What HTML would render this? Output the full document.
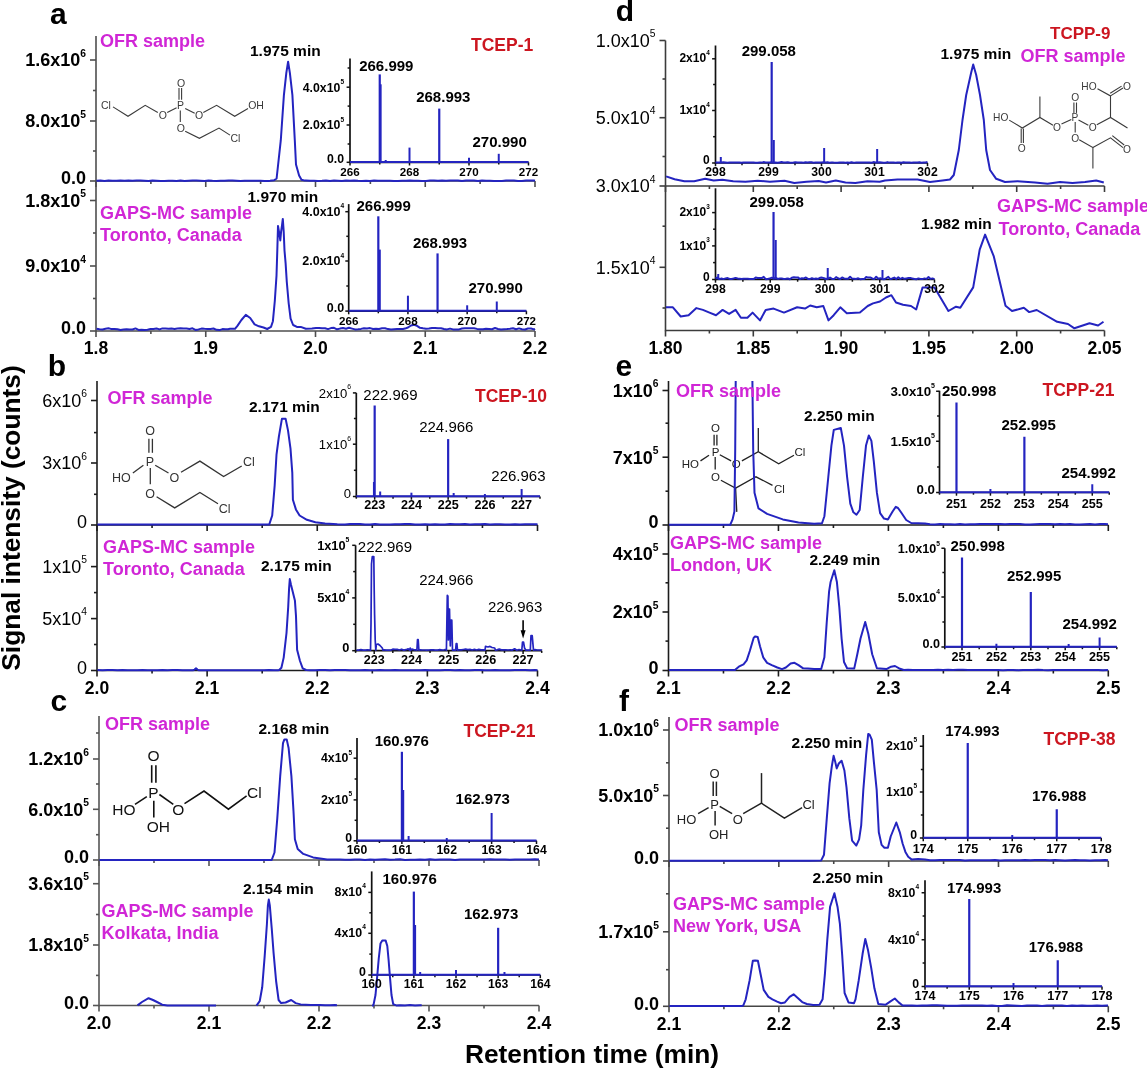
<!DOCTYPE html>
<html><head><meta charset="utf-8"><style>
html,body{margin:0;padding:0;background:#fff;}
svg{display:block;font-family:"Liberation Sans", sans-serif;will-change:transform;}
</style></head><body>
<svg width="1147" height="1069" viewBox="0 0 1147 1069">
<rect width="1147" height="1069" fill="#fff"/>
<line x1="96" y1="36" x2="96" y2="331.8" stroke="#4e4e4e" stroke-width="1.6"/>
<line x1="96" y1="181" x2="535" y2="181" stroke="#4e4e4e" stroke-width="1.6"/>
<line x1="96" y1="181" x2="96" y2="187" stroke="#4e4e4e" stroke-width="1.6"/>
<line x1="150.88" y1="181" x2="150.88" y2="184" stroke="#4e4e4e" stroke-width="1.6"/>
<line x1="205.75" y1="181" x2="205.75" y2="187" stroke="#4e4e4e" stroke-width="1.6"/>
<line x1="260.63" y1="181" x2="260.63" y2="184" stroke="#4e4e4e" stroke-width="1.6"/>
<line x1="315.5" y1="181" x2="315.5" y2="187" stroke="#4e4e4e" stroke-width="1.6"/>
<line x1="370.37" y1="181" x2="370.37" y2="184" stroke="#4e4e4e" stroke-width="1.6"/>
<line x1="425.25" y1="181" x2="425.25" y2="187" stroke="#4e4e4e" stroke-width="1.6"/>
<line x1="480.12" y1="181" x2="480.12" y2="184" stroke="#4e4e4e" stroke-width="1.6"/>
<line x1="535" y1="181" x2="535" y2="187" stroke="#4e4e4e" stroke-width="1.6"/>
<line x1="90" y1="60" x2="96" y2="60" stroke="#4e4e4e" stroke-width="1.6"/>
<text x="86" y="66.4" font-size="18" font-weight="bold" fill="#000" text-anchor="end">1.6x10<tspan dy="-9.7" font-size="10.3">6</tspan></text>
<line x1="90" y1="121" x2="96" y2="121" stroke="#4e4e4e" stroke-width="1.6"/>
<text x="86" y="127.4" font-size="18" font-weight="bold" fill="#000" text-anchor="end">8.0x10<tspan dy="-9.7" font-size="10.3">5</tspan></text>
<line x1="90" y1="181" x2="96" y2="181" stroke="#4e4e4e" stroke-width="1.6"/>
<text x="86" y="184.3" font-size="18" font-weight="bold" fill="#000" text-anchor="end">0.0</text>
<line x1="93" y1="90.5" x2="96" y2="90.5" stroke="#4e4e4e" stroke-width="1.6"/>
<line x1="93" y1="151" x2="96" y2="151" stroke="#4e4e4e" stroke-width="1.6"/>
<line x1="96" y1="331" x2="535" y2="331" stroke="#4e4e4e" stroke-width="1.6"/>
<line x1="96" y1="331" x2="96" y2="337" stroke="#4e4e4e" stroke-width="1.6"/>
<line x1="150.88" y1="331" x2="150.88" y2="334" stroke="#4e4e4e" stroke-width="1.6"/>
<line x1="205.75" y1="331" x2="205.75" y2="337" stroke="#4e4e4e" stroke-width="1.6"/>
<line x1="260.63" y1="331" x2="260.63" y2="334" stroke="#4e4e4e" stroke-width="1.6"/>
<line x1="315.5" y1="331" x2="315.5" y2="337" stroke="#4e4e4e" stroke-width="1.6"/>
<line x1="370.37" y1="331" x2="370.37" y2="334" stroke="#4e4e4e" stroke-width="1.6"/>
<line x1="425.25" y1="331" x2="425.25" y2="337" stroke="#4e4e4e" stroke-width="1.6"/>
<line x1="480.12" y1="331" x2="480.12" y2="334" stroke="#4e4e4e" stroke-width="1.6"/>
<line x1="535" y1="331" x2="535" y2="337" stroke="#4e4e4e" stroke-width="1.6"/>
<line x1="90" y1="200.5" x2="96" y2="200.5" stroke="#4e4e4e" stroke-width="1.6"/>
<text x="86" y="206.9" font-size="18" font-weight="bold" fill="#000" text-anchor="end">1.8x10<tspan dy="-9.7" font-size="10.3">5</tspan></text>
<line x1="90" y1="266" x2="96" y2="266" stroke="#4e4e4e" stroke-width="1.6"/>
<text x="86" y="272.4" font-size="18" font-weight="bold" fill="#000" text-anchor="end">9.0x10<tspan dy="-9.7" font-size="10.3">4</tspan></text>
<line x1="90" y1="331" x2="96" y2="331" stroke="#4e4e4e" stroke-width="1.6"/>
<text x="86" y="334.3" font-size="18" font-weight="bold" fill="#000" text-anchor="end">0.0</text>
<line x1="93" y1="233" x2="96" y2="233" stroke="#4e4e4e" stroke-width="1.6"/>
<line x1="93" y1="298.5" x2="96" y2="298.5" stroke="#4e4e4e" stroke-width="1.6"/>
<text x="96" y="353.8" font-size="17.5" font-weight="bold" fill="#000" text-anchor="middle">1.8</text>
<text x="205.75" y="353.8" font-size="17.5" font-weight="bold" fill="#000" text-anchor="middle">1.9</text>
<text x="315.5" y="353.8" font-size="17.5" font-weight="bold" fill="#000" text-anchor="middle">2.0</text>
<text x="425.25" y="353.8" font-size="17.5" font-weight="bold" fill="#000" text-anchor="middle">2.1</text>
<text x="535" y="353.8" font-size="17.5" font-weight="bold" fill="#000" text-anchor="middle">2.2</text>
<line x1="97" y1="381" x2="97" y2="671.3" stroke="#1c1c1c" stroke-width="1.6"/>
<line x1="97" y1="525" x2="537.5" y2="525" stroke="#1c1c1c" stroke-width="1.6"/>
<line x1="97" y1="525" x2="97" y2="531" stroke="#1c1c1c" stroke-width="1.6"/>
<line x1="152.06" y1="525" x2="152.06" y2="528" stroke="#1c1c1c" stroke-width="1.6"/>
<line x1="207.13" y1="525" x2="207.13" y2="531" stroke="#1c1c1c" stroke-width="1.6"/>
<line x1="262.19" y1="525" x2="262.19" y2="528" stroke="#1c1c1c" stroke-width="1.6"/>
<line x1="317.25" y1="525" x2="317.25" y2="531" stroke="#1c1c1c" stroke-width="1.6"/>
<line x1="372.31" y1="525" x2="372.31" y2="528" stroke="#1c1c1c" stroke-width="1.6"/>
<line x1="427.37" y1="525" x2="427.37" y2="531" stroke="#1c1c1c" stroke-width="1.6"/>
<line x1="482.44" y1="525" x2="482.44" y2="528" stroke="#1c1c1c" stroke-width="1.6"/>
<line x1="537.5" y1="525" x2="537.5" y2="531" stroke="#1c1c1c" stroke-width="1.6"/>
<line x1="91" y1="400.5" x2="97" y2="400.5" stroke="#1c1c1c" stroke-width="1.6"/>
<text x="87" y="406.9" font-size="18" font-weight="normal" fill="#000" text-anchor="end">6x10<tspan dy="-9.7" font-size="10.3">6</tspan></text>
<line x1="91" y1="463" x2="97" y2="463" stroke="#1c1c1c" stroke-width="1.6"/>
<text x="87" y="469.4" font-size="18" font-weight="normal" fill="#000" text-anchor="end">3x10<tspan dy="-9.7" font-size="10.3">6</tspan></text>
<line x1="91" y1="525" x2="97" y2="525" stroke="#1c1c1c" stroke-width="1.6"/>
<text x="87" y="528.3" font-size="18" font-weight="normal" fill="#000" text-anchor="end">0</text>
<line x1="94" y1="432.6" x2="97" y2="432.6" stroke="#1c1c1c" stroke-width="1.6"/>
<line x1="94" y1="494.3" x2="97" y2="494.3" stroke="#1c1c1c" stroke-width="1.6"/>
<line x1="97" y1="670.5" x2="537.5" y2="670.5" stroke="#1c1c1c" stroke-width="1.6"/>
<line x1="97" y1="670.5" x2="97" y2="676.5" stroke="#1c1c1c" stroke-width="1.6"/>
<line x1="152.06" y1="670.5" x2="152.06" y2="673.5" stroke="#1c1c1c" stroke-width="1.6"/>
<line x1="207.13" y1="670.5" x2="207.13" y2="676.5" stroke="#1c1c1c" stroke-width="1.6"/>
<line x1="262.19" y1="670.5" x2="262.19" y2="673.5" stroke="#1c1c1c" stroke-width="1.6"/>
<line x1="317.25" y1="670.5" x2="317.25" y2="676.5" stroke="#1c1c1c" stroke-width="1.6"/>
<line x1="372.31" y1="670.5" x2="372.31" y2="673.5" stroke="#1c1c1c" stroke-width="1.6"/>
<line x1="427.37" y1="670.5" x2="427.37" y2="676.5" stroke="#1c1c1c" stroke-width="1.6"/>
<line x1="482.44" y1="670.5" x2="482.44" y2="673.5" stroke="#1c1c1c" stroke-width="1.6"/>
<line x1="537.5" y1="670.5" x2="537.5" y2="676.5" stroke="#1c1c1c" stroke-width="1.6"/>
<line x1="91" y1="566.6" x2="97" y2="566.6" stroke="#1c1c1c" stroke-width="1.6"/>
<text x="87" y="573" font-size="18" font-weight="normal" fill="#000" text-anchor="end">1x10<tspan dy="-9.7" font-size="10.3">5</tspan></text>
<line x1="91" y1="618.6" x2="97" y2="618.6" stroke="#1c1c1c" stroke-width="1.6"/>
<text x="87" y="625" font-size="18" font-weight="normal" fill="#000" text-anchor="end">5x10<tspan dy="-9.7" font-size="10.3">4</tspan></text>
<line x1="91" y1="670.5" x2="97" y2="670.5" stroke="#1c1c1c" stroke-width="1.6"/>
<text x="87" y="673.8" font-size="18" font-weight="normal" fill="#000" text-anchor="end">0</text>
<line x1="94" y1="592.6" x2="97" y2="592.6" stroke="#1c1c1c" stroke-width="1.6"/>
<line x1="94" y1="644.5" x2="97" y2="644.5" stroke="#1c1c1c" stroke-width="1.6"/>
<text x="97" y="693.7" font-size="17.5" font-weight="bold" fill="#000" text-anchor="middle">2.0</text>
<text x="207.13" y="693.7" font-size="17.5" font-weight="bold" fill="#000" text-anchor="middle">2.1</text>
<text x="317.25" y="693.7" font-size="17.5" font-weight="bold" fill="#000" text-anchor="middle">2.2</text>
<text x="427.37" y="693.7" font-size="17.5" font-weight="bold" fill="#000" text-anchor="middle">2.3</text>
<text x="537.5" y="693.7" font-size="17.5" font-weight="bold" fill="#000" text-anchor="middle">2.4</text>
<line x1="99" y1="716" x2="99" y2="1006.3" stroke="#555555" stroke-width="1.6"/>
<line x1="99" y1="860" x2="539" y2="860" stroke="#555555" stroke-width="1.6"/>
<line x1="99" y1="860" x2="99" y2="866" stroke="#555555" stroke-width="1.6"/>
<line x1="154" y1="860" x2="154" y2="863" stroke="#555555" stroke-width="1.6"/>
<line x1="209" y1="860" x2="209" y2="866" stroke="#555555" stroke-width="1.6"/>
<line x1="264" y1="860" x2="264" y2="863" stroke="#555555" stroke-width="1.6"/>
<line x1="319" y1="860" x2="319" y2="866" stroke="#555555" stroke-width="1.6"/>
<line x1="374" y1="860" x2="374" y2="863" stroke="#555555" stroke-width="1.6"/>
<line x1="429" y1="860" x2="429" y2="866" stroke="#555555" stroke-width="1.6"/>
<line x1="484" y1="860" x2="484" y2="863" stroke="#555555" stroke-width="1.6"/>
<line x1="539" y1="860" x2="539" y2="866" stroke="#555555" stroke-width="1.6"/>
<line x1="93" y1="759" x2="99" y2="759" stroke="#555555" stroke-width="1.6"/>
<text x="89" y="765.4" font-size="18" font-weight="bold" fill="#000" text-anchor="end">1.2x10<tspan dy="-9.7" font-size="10.3">6</tspan></text>
<line x1="93" y1="809.3" x2="99" y2="809.3" stroke="#555555" stroke-width="1.6"/>
<text x="89" y="815.7" font-size="18" font-weight="bold" fill="#000" text-anchor="end">6.0x10<tspan dy="-9.7" font-size="10.3">5</tspan></text>
<line x1="93" y1="860" x2="99" y2="860" stroke="#555555" stroke-width="1.6"/>
<text x="89" y="863.3" font-size="18" font-weight="bold" fill="#000" text-anchor="end">0.0</text>
<line x1="96" y1="733" x2="99" y2="733" stroke="#555555" stroke-width="1.6"/>
<line x1="96" y1="784" x2="99" y2="784" stroke="#555555" stroke-width="1.6"/>
<line x1="96" y1="834.7" x2="99" y2="834.7" stroke="#555555" stroke-width="1.6"/>
<line x1="99" y1="1005.5" x2="539" y2="1005.5" stroke="#555555" stroke-width="1.6"/>
<line x1="99" y1="1005.5" x2="99" y2="1011.5" stroke="#555555" stroke-width="1.6"/>
<line x1="154" y1="1005.5" x2="154" y2="1008.5" stroke="#555555" stroke-width="1.6"/>
<line x1="209" y1="1005.5" x2="209" y2="1011.5" stroke="#555555" stroke-width="1.6"/>
<line x1="264" y1="1005.5" x2="264" y2="1008.5" stroke="#555555" stroke-width="1.6"/>
<line x1="319" y1="1005.5" x2="319" y2="1011.5" stroke="#555555" stroke-width="1.6"/>
<line x1="374" y1="1005.5" x2="374" y2="1008.5" stroke="#555555" stroke-width="1.6"/>
<line x1="429" y1="1005.5" x2="429" y2="1011.5" stroke="#555555" stroke-width="1.6"/>
<line x1="484" y1="1005.5" x2="484" y2="1008.5" stroke="#555555" stroke-width="1.6"/>
<line x1="539" y1="1005.5" x2="539" y2="1011.5" stroke="#555555" stroke-width="1.6"/>
<line x1="93" y1="883.7" x2="99" y2="883.7" stroke="#555555" stroke-width="1.6"/>
<text x="89" y="890.1" font-size="18" font-weight="bold" fill="#000" text-anchor="end">3.6x10<tspan dy="-9.7" font-size="10.3">5</tspan></text>
<line x1="93" y1="945" x2="99" y2="945" stroke="#555555" stroke-width="1.6"/>
<text x="89" y="951.4" font-size="18" font-weight="bold" fill="#000" text-anchor="end">1.8x10<tspan dy="-9.7" font-size="10.3">5</tspan></text>
<line x1="93" y1="1005.5" x2="99" y2="1005.5" stroke="#555555" stroke-width="1.6"/>
<text x="89" y="1008.8" font-size="18" font-weight="bold" fill="#000" text-anchor="end">0.0</text>
<line x1="96" y1="914.5" x2="99" y2="914.5" stroke="#555555" stroke-width="1.6"/>
<line x1="96" y1="975.4" x2="99" y2="975.4" stroke="#555555" stroke-width="1.6"/>
<text x="99" y="1028.7" font-size="17.5" font-weight="bold" fill="#000" text-anchor="middle">2.0</text>
<text x="209" y="1028.7" font-size="17.5" font-weight="bold" fill="#000" text-anchor="middle">2.1</text>
<text x="319" y="1028.7" font-size="17.5" font-weight="bold" fill="#000" text-anchor="middle">2.2</text>
<text x="429" y="1028.7" font-size="17.5" font-weight="bold" fill="#000" text-anchor="middle">2.3</text>
<text x="539" y="1028.7" font-size="17.5" font-weight="bold" fill="#000" text-anchor="middle">2.4</text>
<line x1="665.5" y1="40.5" x2="665.5" y2="331.3" stroke="#3c3c3c" stroke-width="1.6"/>
<line x1="665.5" y1="186" x2="1104.5" y2="186" stroke="#3c3c3c" stroke-width="1.6"/>
<line x1="665.5" y1="186" x2="665.5" y2="192" stroke="#3c3c3c" stroke-width="1.6"/>
<line x1="709.4" y1="186" x2="709.4" y2="189" stroke="#3c3c3c" stroke-width="1.6"/>
<line x1="753.3" y1="186" x2="753.3" y2="192" stroke="#3c3c3c" stroke-width="1.6"/>
<line x1="797.2" y1="186" x2="797.2" y2="189" stroke="#3c3c3c" stroke-width="1.6"/>
<line x1="841.1" y1="186" x2="841.1" y2="192" stroke="#3c3c3c" stroke-width="1.6"/>
<line x1="885" y1="186" x2="885" y2="189" stroke="#3c3c3c" stroke-width="1.6"/>
<line x1="928.9" y1="186" x2="928.9" y2="192" stroke="#3c3c3c" stroke-width="1.6"/>
<line x1="972.8" y1="186" x2="972.8" y2="189" stroke="#3c3c3c" stroke-width="1.6"/>
<line x1="1016.7" y1="186" x2="1016.7" y2="192" stroke="#3c3c3c" stroke-width="1.6"/>
<line x1="1060.6" y1="186" x2="1060.6" y2="189" stroke="#3c3c3c" stroke-width="1.6"/>
<line x1="1104.5" y1="186" x2="1104.5" y2="192" stroke="#3c3c3c" stroke-width="1.6"/>
<line x1="659.5" y1="40.5" x2="665.5" y2="40.5" stroke="#3c3c3c" stroke-width="1.6"/>
<text x="655.5" y="46.9" font-size="18" font-weight="normal" fill="#000" text-anchor="end">1.0x10<tspan dy="-9.7" font-size="10.3">5</tspan></text>
<line x1="659.5" y1="117.7" x2="665.5" y2="117.7" stroke="#3c3c3c" stroke-width="1.6"/>
<text x="655.5" y="124.1" font-size="18" font-weight="normal" fill="#000" text-anchor="end">5.0x10<tspan dy="-9.7" font-size="10.3">4</tspan></text>
<line x1="659.5" y1="186" x2="665.5" y2="186" stroke="#3c3c3c" stroke-width="1.6"/>
<text x="655.5" y="192.4" font-size="18" font-weight="normal" fill="#000" text-anchor="end">3.0x10<tspan dy="-9.7" font-size="10.3">4</tspan></text>
<line x1="662.5" y1="79" x2="665.5" y2="79" stroke="#3c3c3c" stroke-width="1.6"/>
<line x1="662.5" y1="156.5" x2="665.5" y2="156.5" stroke="#3c3c3c" stroke-width="1.6"/>
<line x1="665.5" y1="330.5" x2="1104.5" y2="330.5" stroke="#3c3c3c" stroke-width="1.6"/>
<line x1="665.5" y1="330.5" x2="665.5" y2="336.5" stroke="#3c3c3c" stroke-width="1.6"/>
<line x1="709.4" y1="330.5" x2="709.4" y2="333.5" stroke="#3c3c3c" stroke-width="1.6"/>
<line x1="753.3" y1="330.5" x2="753.3" y2="336.5" stroke="#3c3c3c" stroke-width="1.6"/>
<line x1="797.2" y1="330.5" x2="797.2" y2="333.5" stroke="#3c3c3c" stroke-width="1.6"/>
<line x1="841.1" y1="330.5" x2="841.1" y2="336.5" stroke="#3c3c3c" stroke-width="1.6"/>
<line x1="885" y1="330.5" x2="885" y2="333.5" stroke="#3c3c3c" stroke-width="1.6"/>
<line x1="928.9" y1="330.5" x2="928.9" y2="336.5" stroke="#3c3c3c" stroke-width="1.6"/>
<line x1="972.8" y1="330.5" x2="972.8" y2="333.5" stroke="#3c3c3c" stroke-width="1.6"/>
<line x1="1016.7" y1="330.5" x2="1016.7" y2="336.5" stroke="#3c3c3c" stroke-width="1.6"/>
<line x1="1060.6" y1="330.5" x2="1060.6" y2="333.5" stroke="#3c3c3c" stroke-width="1.6"/>
<line x1="1104.5" y1="330.5" x2="1104.5" y2="336.5" stroke="#3c3c3c" stroke-width="1.6"/>
<line x1="659.5" y1="267.3" x2="665.5" y2="267.3" stroke="#3c3c3c" stroke-width="1.6"/>
<text x="655.5" y="273.7" font-size="18" font-weight="normal" fill="#000" text-anchor="end">1.5x10<tspan dy="-9.7" font-size="10.3">4</tspan></text>
<line x1="662.5" y1="226.2" x2="665.5" y2="226.2" stroke="#3c3c3c" stroke-width="1.6"/>
<line x1="662.5" y1="308" x2="665.5" y2="308" stroke="#3c3c3c" stroke-width="1.6"/>
<text x="665.5" y="353.7" font-size="17.5" font-weight="bold" fill="#000" text-anchor="middle">1.80</text>
<text x="753.3" y="353.7" font-size="17.5" font-weight="bold" fill="#000" text-anchor="middle">1.85</text>
<text x="841.1" y="353.7" font-size="17.5" font-weight="bold" fill="#000" text-anchor="middle">1.90</text>
<text x="928.9" y="353.7" font-size="17.5" font-weight="bold" fill="#000" text-anchor="middle">1.95</text>
<text x="1016.7" y="353.7" font-size="17.5" font-weight="bold" fill="#000" text-anchor="middle">2.00</text>
<text x="1104.5" y="353.7" font-size="17.5" font-weight="bold" fill="#000" text-anchor="middle">2.05</text>
<line x1="668.5" y1="381" x2="668.5" y2="671.3" stroke="#1c1c1c" stroke-width="1.6"/>
<line x1="668.5" y1="525" x2="1108.3" y2="525" stroke="#1c1c1c" stroke-width="1.6"/>
<line x1="668.5" y1="525" x2="668.5" y2="531" stroke="#1c1c1c" stroke-width="1.6"/>
<line x1="723.47" y1="525" x2="723.47" y2="528" stroke="#1c1c1c" stroke-width="1.6"/>
<line x1="778.45" y1="525" x2="778.45" y2="531" stroke="#1c1c1c" stroke-width="1.6"/>
<line x1="833.42" y1="525" x2="833.42" y2="528" stroke="#1c1c1c" stroke-width="1.6"/>
<line x1="888.4" y1="525" x2="888.4" y2="531" stroke="#1c1c1c" stroke-width="1.6"/>
<line x1="943.38" y1="525" x2="943.38" y2="528" stroke="#1c1c1c" stroke-width="1.6"/>
<line x1="998.35" y1="525" x2="998.35" y2="531" stroke="#1c1c1c" stroke-width="1.6"/>
<line x1="1053.33" y1="525" x2="1053.33" y2="528" stroke="#1c1c1c" stroke-width="1.6"/>
<line x1="1108.3" y1="525" x2="1108.3" y2="531" stroke="#1c1c1c" stroke-width="1.6"/>
<line x1="662.5" y1="390.5" x2="668.5" y2="390.5" stroke="#1c1c1c" stroke-width="1.6"/>
<text x="658.5" y="396.9" font-size="18" font-weight="bold" fill="#000" text-anchor="end">1x10<tspan dy="-9.7" font-size="10.3">6</tspan></text>
<line x1="662.5" y1="457.2" x2="668.5" y2="457.2" stroke="#1c1c1c" stroke-width="1.6"/>
<text x="658.5" y="463.6" font-size="18" font-weight="bold" fill="#000" text-anchor="end">7x10<tspan dy="-9.7" font-size="10.3">5</tspan></text>
<line x1="662.5" y1="525" x2="668.5" y2="525" stroke="#1c1c1c" stroke-width="1.6"/>
<text x="658.5" y="528.3" font-size="18" font-weight="bold" fill="#000" text-anchor="end">0</text>
<line x1="665.5" y1="423.2" x2="668.5" y2="423.2" stroke="#1c1c1c" stroke-width="1.6"/>
<line x1="665.5" y1="491.2" x2="668.5" y2="491.2" stroke="#1c1c1c" stroke-width="1.6"/>
<line x1="668.5" y1="670.5" x2="1108.3" y2="670.5" stroke="#1c1c1c" stroke-width="1.6"/>
<line x1="668.5" y1="670.5" x2="668.5" y2="676.5" stroke="#1c1c1c" stroke-width="1.6"/>
<line x1="723.47" y1="670.5" x2="723.47" y2="673.5" stroke="#1c1c1c" stroke-width="1.6"/>
<line x1="778.45" y1="670.5" x2="778.45" y2="676.5" stroke="#1c1c1c" stroke-width="1.6"/>
<line x1="833.42" y1="670.5" x2="833.42" y2="673.5" stroke="#1c1c1c" stroke-width="1.6"/>
<line x1="888.4" y1="670.5" x2="888.4" y2="676.5" stroke="#1c1c1c" stroke-width="1.6"/>
<line x1="943.38" y1="670.5" x2="943.38" y2="673.5" stroke="#1c1c1c" stroke-width="1.6"/>
<line x1="998.35" y1="670.5" x2="998.35" y2="676.5" stroke="#1c1c1c" stroke-width="1.6"/>
<line x1="1053.33" y1="670.5" x2="1053.33" y2="673.5" stroke="#1c1c1c" stroke-width="1.6"/>
<line x1="1108.3" y1="670.5" x2="1108.3" y2="676.5" stroke="#1c1c1c" stroke-width="1.6"/>
<line x1="662.5" y1="554" x2="668.5" y2="554" stroke="#1c1c1c" stroke-width="1.6"/>
<text x="658.5" y="560.4" font-size="18" font-weight="bold" fill="#000" text-anchor="end">4x10<tspan dy="-9.7" font-size="10.3">5</tspan></text>
<line x1="662.5" y1="612" x2="668.5" y2="612" stroke="#1c1c1c" stroke-width="1.6"/>
<text x="658.5" y="618.4" font-size="18" font-weight="bold" fill="#000" text-anchor="end">2x10<tspan dy="-9.7" font-size="10.3">5</tspan></text>
<line x1="662.5" y1="670.5" x2="668.5" y2="670.5" stroke="#1c1c1c" stroke-width="1.6"/>
<text x="658.5" y="673.8" font-size="18" font-weight="bold" fill="#000" text-anchor="end">0</text>
<line x1="665.5" y1="582.8" x2="668.5" y2="582.8" stroke="#1c1c1c" stroke-width="1.6"/>
<line x1="665.5" y1="641.1" x2="668.5" y2="641.1" stroke="#1c1c1c" stroke-width="1.6"/>
<text x="668.5" y="693.7" font-size="17.5" font-weight="bold" fill="#000" text-anchor="middle">2.1</text>
<text x="778.45" y="693.7" font-size="17.5" font-weight="bold" fill="#000" text-anchor="middle">2.2</text>
<text x="888.4" y="693.7" font-size="17.5" font-weight="bold" fill="#000" text-anchor="middle">2.3</text>
<text x="998.35" y="693.7" font-size="17.5" font-weight="bold" fill="#000" text-anchor="middle">2.4</text>
<text x="1108.3" y="693.7" font-size="17.5" font-weight="bold" fill="#000" text-anchor="middle">2.5</text>
<line x1="669" y1="717" x2="669" y2="1007.1" stroke="#454545" stroke-width="1.6"/>
<line x1="669" y1="861" x2="1108.3" y2="861" stroke="#454545" stroke-width="1.6"/>
<line x1="669" y1="861" x2="669" y2="867" stroke="#454545" stroke-width="1.6"/>
<line x1="723.91" y1="861" x2="723.91" y2="864" stroke="#454545" stroke-width="1.6"/>
<line x1="778.83" y1="861" x2="778.83" y2="867" stroke="#454545" stroke-width="1.6"/>
<line x1="833.74" y1="861" x2="833.74" y2="864" stroke="#454545" stroke-width="1.6"/>
<line x1="888.65" y1="861" x2="888.65" y2="867" stroke="#454545" stroke-width="1.6"/>
<line x1="943.56" y1="861" x2="943.56" y2="864" stroke="#454545" stroke-width="1.6"/>
<line x1="998.48" y1="861" x2="998.48" y2="867" stroke="#454545" stroke-width="1.6"/>
<line x1="1053.39" y1="861" x2="1053.39" y2="864" stroke="#454545" stroke-width="1.6"/>
<line x1="1108.3" y1="861" x2="1108.3" y2="867" stroke="#454545" stroke-width="1.6"/>
<line x1="663" y1="730" x2="669" y2="730" stroke="#454545" stroke-width="1.6"/>
<text x="659" y="736.4" font-size="18" font-weight="bold" fill="#000" text-anchor="end">1.0x10<tspan dy="-9.7" font-size="10.3">6</tspan></text>
<line x1="663" y1="795.5" x2="669" y2="795.5" stroke="#454545" stroke-width="1.6"/>
<text x="659" y="801.9" font-size="18" font-weight="bold" fill="#000" text-anchor="end">5.0x10<tspan dy="-9.7" font-size="10.3">5</tspan></text>
<line x1="663" y1="861" x2="669" y2="861" stroke="#454545" stroke-width="1.6"/>
<text x="659" y="864.3" font-size="18" font-weight="bold" fill="#000" text-anchor="end">0.0</text>
<line x1="666" y1="762.8" x2="669" y2="762.8" stroke="#454545" stroke-width="1.6"/>
<line x1="666" y1="828.2" x2="669" y2="828.2" stroke="#454545" stroke-width="1.6"/>
<line x1="669" y1="1006.3" x2="1108.3" y2="1006.3" stroke="#454545" stroke-width="1.6"/>
<line x1="669" y1="1006.3" x2="669" y2="1012.3" stroke="#454545" stroke-width="1.6"/>
<line x1="723.91" y1="1006.3" x2="723.91" y2="1009.3" stroke="#454545" stroke-width="1.6"/>
<line x1="778.83" y1="1006.3" x2="778.83" y2="1012.3" stroke="#454545" stroke-width="1.6"/>
<line x1="833.74" y1="1006.3" x2="833.74" y2="1009.3" stroke="#454545" stroke-width="1.6"/>
<line x1="888.65" y1="1006.3" x2="888.65" y2="1012.3" stroke="#454545" stroke-width="1.6"/>
<line x1="943.56" y1="1006.3" x2="943.56" y2="1009.3" stroke="#454545" stroke-width="1.6"/>
<line x1="998.48" y1="1006.3" x2="998.48" y2="1012.3" stroke="#454545" stroke-width="1.6"/>
<line x1="1053.39" y1="1006.3" x2="1053.39" y2="1009.3" stroke="#454545" stroke-width="1.6"/>
<line x1="1108.3" y1="1006.3" x2="1108.3" y2="1012.3" stroke="#454545" stroke-width="1.6"/>
<line x1="663" y1="931.8" x2="669" y2="931.8" stroke="#454545" stroke-width="1.6"/>
<text x="659" y="938.2" font-size="18" font-weight="bold" fill="#000" text-anchor="end">1.7x10<tspan dy="-9.7" font-size="10.3">5</tspan></text>
<line x1="663" y1="1006.3" x2="669" y2="1006.3" stroke="#454545" stroke-width="1.6"/>
<text x="659" y="1009.6" font-size="18" font-weight="bold" fill="#000" text-anchor="end">0.0</text>
<line x1="666" y1="893.8" x2="669" y2="893.8" stroke="#454545" stroke-width="1.6"/>
<line x1="666" y1="969.7" x2="669" y2="969.7" stroke="#454545" stroke-width="1.6"/>
<text x="669" y="1029.5" font-size="17.5" font-weight="bold" fill="#000" text-anchor="middle">2.1</text>
<text x="778.83" y="1029.5" font-size="17.5" font-weight="bold" fill="#000" text-anchor="middle">2.2</text>
<text x="888.65" y="1029.5" font-size="17.5" font-weight="bold" fill="#000" text-anchor="middle">2.3</text>
<text x="998.48" y="1029.5" font-size="17.5" font-weight="bold" fill="#000" text-anchor="middle">2.4</text>
<text x="1108.3" y="1029.5" font-size="17.5" font-weight="bold" fill="#000" text-anchor="middle">2.5</text>
<text x="50" y="23.7" font-size="30" font-weight="bold" fill="#000" text-anchor="start">a</text>
<text x="47.7" y="376" font-size="30" font-weight="bold" fill="#000" text-anchor="start">b</text>
<text x="50.5" y="711" font-size="30" font-weight="bold" fill="#000" text-anchor="start">c</text>
<text x="615.8" y="20.8" font-size="30" font-weight="bold" fill="#000" text-anchor="start">d</text>
<text x="615.5" y="376" font-size="30" font-weight="bold" fill="#000" text-anchor="start">e</text>
<text x="619" y="710.6" font-size="30" font-weight="bold" fill="#000" text-anchor="start">f</text>
<text x="0" y="0" font-size="26.3" font-weight="bold" fill="#000" text-anchor="middle" transform="translate(20,518) rotate(-90)">Signal intensity (counts)</text>
<text x="592" y="1063" font-size="26.3" font-weight="bold" fill="#000" text-anchor="middle">Retention time (min)</text>
<polyline points="113.0,106.9 128.0,116.3 145.2,105.3 157.8,112.4" fill="none" stroke="#3a3a3a" stroke-width="1.1" stroke-linejoin="miter"/>
<polyline points="167.2,112.4 176.6,107.7" fill="none" stroke="#3a3a3a" stroke-width="1.1" stroke-linejoin="miter"/>
<polyline points="179.0,99.8 179.0,88.0" fill="none" stroke="#3a3a3a" stroke-width="1.1" stroke-linejoin="miter"/>
<polyline points="181.6,99.8 181.6,88.0" fill="none" stroke="#3a3a3a" stroke-width="1.1" stroke-linejoin="miter"/>
<polyline points="185.2,108.5 194.7,113.2" fill="none" stroke="#3a3a3a" stroke-width="1.1" stroke-linejoin="miter"/>
<polyline points="203.3,112.4 216.6,105.3 234.7,116.3 248.0,108.5" fill="none" stroke="#3a3a3a" stroke-width="1.1" stroke-linejoin="miter"/>
<polyline points="180.3,110.5 180.3,122.0" fill="none" stroke="#3a3a3a" stroke-width="1.1" stroke-linejoin="miter"/>
<polyline points="185.2,131.2 199.4,138.3 219.0,128.1 230.0,135.1" fill="none" stroke="#3a3a3a" stroke-width="1.1" stroke-linejoin="miter"/>
<text x="106" y="108.6" font-size="10.5" font-weight="normal" fill="#3a3a3a" text-anchor="middle">Cl</text>
<text x="162.9" y="119.3" font-size="10.5" font-weight="normal" fill="#3a3a3a" text-anchor="middle">O</text>
<text x="180.5" y="109.3" font-size="10.5" font-weight="normal" fill="#3a3a3a" text-anchor="middle">P</text>
<text x="181" y="86.6" font-size="10.5" font-weight="normal" fill="#3a3a3a" text-anchor="middle">O</text>
<text x="199" y="119.3" font-size="10.5" font-weight="normal" fill="#3a3a3a" text-anchor="middle">O</text>
<text x="256" y="108.6" font-size="10.5" font-weight="normal" fill="#3a3a3a" text-anchor="middle">OH</text>
<text x="180.8" y="132" font-size="10.5" font-weight="normal" fill="#3a3a3a" text-anchor="middle">O</text>
<text x="235.5" y="142.2" font-size="10.5" font-weight="normal" fill="#3a3a3a" text-anchor="middle">Cl</text>
<polyline points="148.9,438.8 148.9,452.8" fill="none" stroke="#333" stroke-width="1.3" stroke-linejoin="miter"/>
<polyline points="152.4,438.8 152.4,452.8" fill="none" stroke="#333" stroke-width="1.3" stroke-linejoin="miter"/>
<polyline points="143.4,465.3 132.9,473.0" fill="none" stroke="#333" stroke-width="1.3" stroke-linejoin="miter"/>
<polyline points="155.2,465.3 168.5,473.0" fill="none" stroke="#333" stroke-width="1.3" stroke-linejoin="miter"/>
<polyline points="181.0,472.3 199.9,461.1 223.6,476.5 241.7,466.0" fill="none" stroke="#333" stroke-width="1.3" stroke-linejoin="miter"/>
<polyline points="150.3,468.1 150.3,484.2" fill="none" stroke="#333" stroke-width="1.3" stroke-linejoin="miter"/>
<polyline points="156.6,496.7 174.7,507.9 199.9,492.5 218.0,503.7" fill="none" stroke="#333" stroke-width="1.3" stroke-linejoin="miter"/>
<text x="150" y="434.7" font-size="12.5" font-weight="normal" fill="#333" text-anchor="middle">O</text>
<text x="150" y="466.2" font-size="12.5" font-weight="normal" fill="#333" text-anchor="middle">P</text>
<text x="121.4" y="482.2" font-size="12.5" font-weight="normal" fill="#333" text-anchor="middle">HO</text>
<text x="174.4" y="482.2" font-size="12.5" font-weight="normal" fill="#333" text-anchor="middle">O</text>
<text x="249" y="466.2" font-size="12.5" font-weight="normal" fill="#333" text-anchor="middle">Cl</text>
<text x="150" y="498.2" font-size="12.5" font-weight="normal" fill="#333" text-anchor="middle">O</text>
<text x="224.6" y="513" font-size="12.5" font-weight="normal" fill="#333" text-anchor="middle">Cl</text>
<polyline points="151.7,765.2 151.7,782.7" fill="none" stroke="#111" stroke-width="1.6" stroke-linejoin="miter"/>
<polyline points="155.9,765.2 155.9,782.7" fill="none" stroke="#111" stroke-width="1.6" stroke-linejoin="miter"/>
<polyline points="146.8,796.6 135.0,804.3" fill="none" stroke="#111" stroke-width="1.6" stroke-linejoin="miter"/>
<polyline points="159.4,794.5 173.3,804.3" fill="none" stroke="#111" stroke-width="1.6" stroke-linejoin="miter"/>
<polyline points="184.5,803.6 204.0,791.0 228.4,809.2 246.6,795.9" fill="none" stroke="#111" stroke-width="1.6" stroke-linejoin="miter"/>
<polyline points="153.8,800.8 153.8,817.5" fill="none" stroke="#111" stroke-width="1.6" stroke-linejoin="miter"/>
<text x="153.5" y="761.2" font-size="15.5" font-weight="normal" fill="#111" text-anchor="middle">O</text>
<text x="153.3" y="797.5" font-size="15.5" font-weight="normal" fill="#111" text-anchor="middle">P</text>
<text x="123.9" y="814.8" font-size="15.5" font-weight="normal" fill="#111" text-anchor="middle">HO</text>
<text x="178.2" y="814.8" font-size="15.5" font-weight="normal" fill="#111" text-anchor="middle">O</text>
<text x="254.3" y="797.5" font-size="15.5" font-weight="normal" fill="#111" text-anchor="middle">Cl</text>
<text x="158.3" y="832.3" font-size="15.5" font-weight="normal" fill="#111" text-anchor="middle">OH</text>
<polyline points="1009.2,120.1 1022.3,128.0 1039.9,117.5 1053.0,125.3" fill="none" stroke="#3a3a3a" stroke-width="1.1" stroke-linejoin="miter"/>
<polyline points="1021.2,128.5 1021.2,143.0" fill="none" stroke="#3a3a3a" stroke-width="1.1" stroke-linejoin="miter"/>
<polyline points="1023.4,128.5 1023.4,143.0" fill="none" stroke="#3a3a3a" stroke-width="1.1" stroke-linejoin="miter"/>
<polyline points="1039.9,117.5 1039.9,96.6" fill="none" stroke="#3a3a3a" stroke-width="1.1" stroke-linejoin="miter"/>
<polyline points="1061.5,124.0 1071.3,119.5" fill="none" stroke="#3a3a3a" stroke-width="1.1" stroke-linejoin="miter"/>
<polyline points="1073.9,102.5 1073.9,112.9" fill="none" stroke="#3a3a3a" stroke-width="1.1" stroke-linejoin="miter"/>
<polyline points="1076.5,102.5 1076.5,112.9" fill="none" stroke="#3a3a3a" stroke-width="1.1" stroke-linejoin="miter"/>
<polyline points="1078.5,120.1 1088.3,125.3" fill="none" stroke="#3a3a3a" stroke-width="1.1" stroke-linejoin="miter"/>
<polyline points="1096.8,124.7 1110.5,117.5 1127.5,128.0" fill="none" stroke="#3a3a3a" stroke-width="1.1" stroke-linejoin="miter"/>
<polyline points="1110.5,117.5 1110.5,95.9 1097.5,88.7" fill="none" stroke="#3a3a3a" stroke-width="1.1" stroke-linejoin="miter"/>
<polyline points="1110.5,95.9 1123.0,88.0" fill="none" stroke="#3a3a3a" stroke-width="1.1" stroke-linejoin="miter"/>
<polyline points="1110.2,93.3 1121.6,86.1" fill="none" stroke="#3a3a3a" stroke-width="1.1" stroke-linejoin="miter"/>
<polyline points="1075.2,122.0 1075.2,132.5" fill="none" stroke="#3a3a3a" stroke-width="1.1" stroke-linejoin="miter"/>
<polyline points="1079.2,139.7 1092.9,147.6 1092.9,168.5" fill="none" stroke="#3a3a3a" stroke-width="1.1" stroke-linejoin="miter"/>
<polyline points="1092.9,147.6 1110.5,137.8 1123.0,147.6" fill="none" stroke="#3a3a3a" stroke-width="1.1" stroke-linejoin="miter"/>
<polyline points="1112.3,135.6 1124.2,145.0" fill="none" stroke="#3a3a3a" stroke-width="1.1" stroke-linejoin="miter"/>
<text x="1000.7" y="120.9" font-size="10.2" font-weight="normal" fill="#3a3a3a" text-anchor="middle">HO</text>
<text x="1021.6" y="151.6" font-size="10.2" font-weight="normal" fill="#3a3a3a" text-anchor="middle">O</text>
<text x="1057" y="130.7" font-size="10.2" font-weight="normal" fill="#3a3a3a" text-anchor="middle">O</text>
<text x="1075" y="120.9" font-size="10.2" font-weight="normal" fill="#3a3a3a" text-anchor="middle">P</text>
<text x="1075.3" y="100.6" font-size="10.2" font-weight="normal" fill="#3a3a3a" text-anchor="middle">O</text>
<text x="1092.6" y="130.7" font-size="10.2" font-weight="normal" fill="#3a3a3a" text-anchor="middle">O</text>
<text x="1089" y="90.1" font-size="10.2" font-weight="normal" fill="#3a3a3a" text-anchor="middle">HO</text>
<text x="1127" y="89.5" font-size="10.2" font-weight="normal" fill="#3a3a3a" text-anchor="middle">O</text>
<text x="1075.3" y="141.8" font-size="10.2" font-weight="normal" fill="#3a3a3a" text-anchor="middle">O</text>
<text x="1127" y="152.9" font-size="10.2" font-weight="normal" fill="#3a3a3a" text-anchor="middle">O</text>
<polyline points="714.1,434.8 714.1,445.6" fill="none" stroke="#222" stroke-width="1.3" stroke-linejoin="miter"/>
<polyline points="716.9,434.8 716.9,445.6" fill="none" stroke="#222" stroke-width="1.3" stroke-linejoin="miter"/>
<polyline points="709.0,455.2 700.5,460.9" fill="none" stroke="#222" stroke-width="1.3" stroke-linejoin="miter"/>
<polyline points="719.8,454.7 731.1,460.9" fill="none" stroke="#222" stroke-width="1.3" stroke-linejoin="miter"/>
<polyline points="741.9,460.9 758.3,451.8 778.7,463.7 794.0,455.2" fill="none" stroke="#222" stroke-width="1.3" stroke-linejoin="miter"/>
<polyline points="758.3,451.8 758.3,428.0" fill="none" stroke="#222" stroke-width="1.3" stroke-linejoin="miter"/>
<polyline points="715.2,457.0 715.2,469.4" fill="none" stroke="#222" stroke-width="1.3" stroke-linejoin="miter"/>
<polyline points="720.9,480.2 735.6,488.1 736.8,511.9" fill="none" stroke="#222" stroke-width="1.3" stroke-linejoin="miter"/>
<polyline points="735.6,488.1 756.0,476.8 772.5,485.3" fill="none" stroke="#222" stroke-width="1.3" stroke-linejoin="miter"/>
<text x="715.5" y="431.5" font-size="11.5" font-weight="normal" fill="#222" text-anchor="middle">O</text>
<text x="715.5" y="455.9" font-size="11.5" font-weight="normal" fill="#222" text-anchor="middle">P</text>
<text x="690.3" y="468.4" font-size="11.5" font-weight="normal" fill="#222" text-anchor="middle">HO</text>
<text x="736.2" y="468.4" font-size="11.5" font-weight="normal" fill="#222" text-anchor="middle">O</text>
<text x="800" y="455.9" font-size="11.5" font-weight="normal" fill="#222" text-anchor="middle">Cl</text>
<text x="715.5" y="480.8" font-size="11.5" font-weight="normal" fill="#222" text-anchor="middle">O</text>
<text x="779.5" y="492.7" font-size="11.5" font-weight="normal" fill="#222" text-anchor="middle">Cl</text>
<polyline points="713.2,781.6 713.2,796.0" fill="none" stroke="#222" stroke-width="1.5" stroke-linejoin="miter"/>
<polyline points="716.4,781.6 716.4,796.0" fill="none" stroke="#222" stroke-width="1.5" stroke-linejoin="miter"/>
<polyline points="708.6,807.7 698.1,813.6" fill="none" stroke="#222" stroke-width="1.5" stroke-linejoin="miter"/>
<polyline points="719.7,806.4 732.1,813.6" fill="none" stroke="#222" stroke-width="1.5" stroke-linejoin="miter"/>
<polyline points="743.2,813.6 761.5,803.2 784.4,818.2 802.1,807.7" fill="none" stroke="#222" stroke-width="1.5" stroke-linejoin="miter"/>
<polyline points="761.5,803.2 761.5,773.1" fill="none" stroke="#222" stroke-width="1.5" stroke-linejoin="miter"/>
<polyline points="715.1,811.0 715.1,825.4" fill="none" stroke="#222" stroke-width="1.5" stroke-linejoin="miter"/>
<text x="714.5" y="778.4" font-size="13" font-weight="normal" fill="#222" text-anchor="middle">O</text>
<text x="714.5" y="808.5" font-size="13" font-weight="normal" fill="#222" text-anchor="middle">P</text>
<text x="686.6" y="823.5" font-size="13" font-weight="normal" fill="#222" text-anchor="middle">HO</text>
<text x="737.7" y="823.5" font-size="13" font-weight="normal" fill="#222" text-anchor="middle">O</text>
<text x="808.6" y="808.5" font-size="13" font-weight="normal" fill="#222" text-anchor="middle">Cl</text>
<text x="718.7" y="838.6" font-size="13" font-weight="normal" fill="#222" text-anchor="middle">OH</text>
<polyline points="96.5,180.7 100.5,180.6 104.5,180.9 108.5,180.6 112.5,180.8 116.5,180.7 120.5,180.6 124.5,180.8 128.5,180.6 132.5,180.8 136.5,180.6 140.5,180.6 144.5,180.8 148.5,181.0 152.5,180.6 156.5,180.7 160.5,180.9 164.5,181.0 168.5,180.8 172.5,180.7 176.5,181.0 180.5,180.6 184.5,181.0 188.5,180.7 192.5,180.6 196.5,180.6 200.5,180.7 204.5,181.0 208.5,180.6 212.5,180.8 216.5,180.9 220.5,180.7 224.5,180.8 228.5,180.6 232.5,180.6 236.5,180.7 240.5,180.9 244.5,180.8 248.5,180.7 252.5,180.8 256.5,180.8 260.5,180.7 264.5,180.9 268.5,180.9 270.0,180.8 274.1,180.3 276.6,178.5 280.8,140.2 283.9,95.1 286.3,73.2 288.1,61.7 289.9,73.2 292.4,95.1 294.8,140.2 296.0,164.5 299.1,175.4 301.5,179.7 305.0,180.6 306.0,180.5 310.0,180.7 314.0,180.7 318.0,180.9 322.0,180.8 326.0,180.6 330.0,181.0 334.0,180.5 338.0,180.7 342.0,180.9 346.0,180.5 350.0,180.7 354.0,180.4 358.0,180.8 362.0,180.9 366.0,180.7 370.0,180.9 374.0,180.6 378.0,180.8 382.0,180.8 386.0,180.7 390.0,180.7 394.0,180.9 398.0,181.0 402.0,180.7 406.0,180.8 410.0,180.4 414.0,180.8 418.0,180.8 422.0,181.0 426.0,180.9 430.0,180.6 434.0,180.6 438.0,180.8 442.0,180.4 446.0,180.7 450.0,180.5 454.0,180.5 458.0,180.4 462.0,180.9 466.0,180.5 470.0,180.5 474.0,180.6 478.0,180.9 482.0,180.4 486.0,180.7 490.0,180.7 494.0,180.9 498.0,180.9 502.0,180.9 506.0,180.6 510.0,180.6 514.0,180.6 518.0,180.9 522.0,181.0 526.0,180.5 530.0,180.5 534.0,180.5 535.0,180.7" fill="none" stroke="#2424c0" stroke-width="2.0" stroke-linejoin="round"/>
<polyline points="96.5,328.7 99.5,329.2 102.5,329.4 105.5,328.8 108.5,328.3 111.5,329.1 114.5,329.0 117.5,329.3 120.5,330.0 123.5,329.5 126.5,329.2 129.5,329.4 132.5,329.5 135.5,328.4 138.5,329.9 141.5,329.7 144.5,329.9 147.5,329.7 150.5,329.0 153.5,329.0 156.5,328.5 159.5,329.4 162.5,328.4 165.5,328.4 168.5,328.7 171.5,328.6 174.5,328.9 177.5,328.4 180.5,328.3 183.5,328.6 186.5,328.5 189.5,329.0 192.5,328.3 195.5,329.9 198.5,329.4 201.5,328.6 204.5,328.8 207.5,328.9 210.5,329.0 213.5,328.5 216.5,329.8 219.5,330.1 222.5,329.1 225.5,329.2 228.0,329.2 230.0,328.8 235.0,328.8 237.6,325.6 241.4,320.0 245.8,314.9 250.2,318.0 254.6,324.4 259.0,326.3 263.5,327.5 267.2,329.0 271.0,326.9 272.9,321.2 274.8,301.0 276.5,275.8 277.3,250.5 278.0,225.9 279.2,232.8 280.3,240.4 281.1,231.6 282.0,225.3 282.8,218.9 283.7,231.6 284.5,250.5 285.6,263.1 286.8,282.0 288.7,303.5 290.6,318.7 293.1,325.0 296.9,326.9 300.7,326.9 305.8,328.8 312.0,328.5 316.0,327.9 319.0,328.0 322.0,328.3 325.0,328.2 328.0,329.1 331.0,328.1 334.0,327.8 337.0,329.3 340.0,328.6 343.0,328.0 346.0,328.7 349.0,327.8 352.0,328.6 355.0,329.4 358.0,329.2 361.0,328.9 364.0,328.2 367.0,328.4 370.0,328.1 373.0,329.0 376.0,328.7 379.0,329.0 382.0,328.3 385.0,328.2 388.0,329.1 391.0,329.4 394.0,329.2 397.0,329.1 400.0,329.1 403.0,329.0 405.0,328.6 408.0,327.5 411.0,325.5 414.0,324.8 417.0,325.8 420.0,327.8 423.0,328.3 426.0,328.7 429.0,328.5 432.0,327.9 435.0,327.9 438.0,328.3 441.0,328.3 444.0,329.0 447.0,329.4 450.0,328.6 453.0,329.4 456.0,329.5 459.0,329.4 462.0,328.5 465.0,328.3 468.0,328.3 471.0,328.2 474.0,328.2 477.0,328.9 480.0,329.3 483.0,329.2 486.0,328.7 489.0,328.9 492.0,329.2 495.0,328.0 498.0,329.0 501.0,329.4 504.0,329.2 507.0,329.1 510.0,328.7 513.0,328.2 516.0,329.2 519.0,328.4 522.0,329.2 525.0,329.5 528.0,328.5 531.0,328.5 534.0,329.4 535.0,328.7" fill="none" stroke="#2424c0" stroke-width="2.0" stroke-linejoin="round"/>
<polyline points="97.5,524.6 102.5,524.6 107.5,524.6 112.5,524.6 117.5,524.6 122.5,524.6 127.5,524.6 132.5,524.6 137.5,524.6 142.5,524.6 147.5,524.6 152.5,524.6 157.5,524.6 162.5,524.6 167.5,524.6 172.5,524.6 177.5,524.6 182.5,524.6 187.5,524.6 192.5,524.6 197.5,524.6 202.5,524.6 207.5,524.6 212.5,524.6 217.5,524.6 222.5,524.6 227.5,524.6 232.5,524.6 237.5,524.6 242.5,524.6 247.5,524.6 252.5,524.6 257.5,524.6 262.5,524.6 267.5,524.6 268.0,524.6 269.2,524.6 272.2,515.5 274.7,485.1 276.5,454.7 278.9,436.5 281.9,418.8 285.6,418.8 288.0,430.4 290.5,448.6 292.3,472.9 292.9,499.7 295.9,509.4 299.6,515.5 306.9,519.8 315.4,522.2 325.1,523.4 337.3,524.3 345.0,524.4 350.0,524.1 355.0,524.1 360.0,524.1 365.0,524.5 370.0,524.5 375.0,524.1 380.0,524.5 385.0,524.6 390.0,524.4 395.0,524.2 400.0,524.3 405.0,524.1 410.0,524.0 415.0,524.6 420.0,524.4 425.0,524.3 430.0,524.6 435.0,524.3 440.0,524.5 445.0,524.5 450.0,524.1 455.0,524.2 460.0,524.2 465.0,524.1 470.0,524.4 475.0,524.2 480.0,524.3 485.0,524.1 490.0,524.5 495.0,524.2 500.0,524.3 505.0,524.4 510.0,524.5 515.0,524.3 520.0,524.6 525.0,524.3 530.0,524.3 535.0,524.3 537.5,524.3" fill="none" stroke="#2424c0" stroke-width="2.0" stroke-linejoin="round"/>
<polyline points="97.5,670.1 102.5,670.2 107.5,670.1 112.5,670.1 117.5,670.3 122.5,670.1 127.5,670.2 132.5,670.3 137.5,670.2 142.5,670.1 147.5,670.2 152.5,670.2 157.5,670.3 162.5,670.1 167.5,670.2 172.5,670.1 177.5,670.1 182.5,670.3 187.5,670.2 192.5,670.2 193.0,670.2 194.5,669.6 196.0,668.4 197.5,669.6 199.0,670.3 204.0,670.3 209.0,670.2 214.0,670.2 219.0,670.2 224.0,670.2 229.0,670.3 234.0,670.2 239.0,670.2 244.0,670.2 249.0,670.3 254.0,670.3 259.0,670.3 264.0,670.3 269.0,670.1 274.0,670.2 278.0,670.2 279.2,670.0 281.4,667.7 283.7,657.6 286.5,633.0 288.2,607.1 289.1,588.1 289.8,579.1 291.0,584.7 294.9,600.4 296.0,616.1 297.1,649.8 300.0,661.0 302.7,668.3 306.1,670.0 310.0,670.3 315.0,670.3 320.0,670.1 325.0,670.1 330.0,670.2 335.0,670.1 340.0,670.1 345.0,670.1 350.0,670.3 355.0,670.3 360.0,670.3 365.0,670.1 370.0,670.3 375.0,670.2 380.0,670.1 385.0,670.3 390.0,670.3 395.0,670.1 400.0,670.3 405.0,670.2 410.0,670.2 415.0,670.3 420.0,670.3 425.0,670.1 430.0,670.2 435.0,670.2 440.0,670.2 445.0,670.1 450.0,670.1 455.0,670.3 460.0,670.1 465.0,670.2 470.0,670.2 475.0,670.1 480.0,670.1 485.0,670.2 490.0,670.2 495.0,670.1 500.0,670.3 505.0,670.3 510.0,670.3 515.0,670.1 520.0,670.1 525.0,670.1 530.0,670.3 535.0,670.1 537.5,670.2" fill="none" stroke="#2424c0" stroke-width="2.0" stroke-linejoin="round"/>
<polyline points="99.5,859.9 104.5,859.9 109.5,859.9 114.5,859.9 119.5,859.9 124.5,859.9 129.5,859.9 134.5,859.9 139.5,859.9 144.5,859.9 149.5,859.9 154.5,859.9 159.5,859.9 164.5,859.9 169.5,859.9 174.5,859.9 179.5,859.9 184.5,859.9 189.5,859.9 194.5,859.9 199.5,859.9 204.5,859.9 209.5,859.9 214.5,859.9 219.5,859.9 224.5,859.9 229.5,859.9 234.5,859.9 239.5,859.9 244.5,859.9 249.5,859.9 254.5,859.9 259.5,859.9 264.5,859.9 269.5,859.9 270.0,859.9 271.7,860.0 274.5,852.5 277.3,818.2 280.2,776.1 283.0,743.1 284.4,739.4 286.7,739.4 288.6,748.0 291.4,776.1 293.5,811.2 294.9,839.2 297.7,849.0 303.3,853.9 313.1,857.4 327.1,859.5 335.0,859.4 340.0,859.6 345.0,859.8 350.0,859.8 355.0,859.5 360.0,859.4 365.0,859.9 370.0,859.6 375.0,859.7 380.0,859.4 385.0,859.3 390.0,859.7 395.0,859.6 400.0,859.3 405.0,859.9 410.0,859.7 415.0,859.8 420.0,859.4 425.0,859.8 430.0,859.3 435.0,859.8 440.0,859.6 445.0,859.5 450.0,859.6 455.0,859.9 460.0,859.5 465.0,859.4 470.0,859.6 475.0,859.4 480.0,859.4 485.0,859.4 490.0,859.3 495.0,859.4 500.0,859.5 505.0,859.5 510.0,859.8 515.0,859.5 520.0,859.6 525.0,859.4 530.0,859.5 535.0,859.3 539.0,859.6" fill="none" stroke="#2424c0" stroke-width="2.0" stroke-linejoin="round"/>
<polyline points="137.5,1005.4 142.0,1002.0 148.6,998.2 153.0,1000.0 157.0,1002.0 162.2,1004.7 167.4,1005.4 170.0,1005.4 175.0,1005.4 180.0,1005.4 185.0,1005.4 190.0,1005.4 195.0,1005.4 200.0,1005.4 205.0,1005.4 210.0,1005.4 215.0,1005.4 216.0,1005.4" fill="none" stroke="#2424c0" stroke-width="2.0" stroke-linejoin="round"/>
<polyline points="256.5,1005.6 259.7,1001.2 262.2,987.3 264.7,955.8 266.9,924.2 267.9,905.3 268.8,899.6 269.8,905.3 271.7,928.0 273.6,953.2 276.1,981.0 278.6,1000.0 281.1,1003.1 285.6,1002.5 291.2,1000.0 295.7,1003.1 300.7,1004.4 310.8,1005.0 315.0,1005.1 320.0,1005.0 325.0,1005.3 330.0,1005.2 335.0,1005.1 337.0,1005.2" fill="none" stroke="#2424c0" stroke-width="2.0" stroke-linejoin="round"/>
<polyline points="372.0,1005.4 373.4,1005.4 375.5,995.0 377.2,976.3 378.8,958.0 380.5,943.4 382.3,940.4 385.6,940.4 387.3,946.0 388.6,960.0 389.9,976.3 391.5,995.0 393.2,1004.1 396.2,1005.4 400.0,1005.3 405.0,1005.5 410.0,1005.1 415.0,1005.4 420.0,1005.3 421.7,1005.3" fill="none" stroke="#2424c0" stroke-width="2.0" stroke-linejoin="round"/>
<polyline points="666.1,176.4 674.6,179.3 684.4,181.3 694.2,181.3 705.2,178.8 713.7,180.5 722.3,179.8 733.2,181.3 745.4,181.7 757.7,180.8 769.9,181.7 784.5,180.8 794.3,183.0 806.5,181.7 818.7,181.0 826.0,182.5 835.8,180.5 845.5,182.5 855.3,183.0 867.5,181.3 879.7,181.7 885.0,180.5 897.5,179.5 917.5,179.5 930.0,182.0 942.5,180.5 950.0,179.5 953.8,175.0 958.8,150.0 962.5,120.0 966.2,95.0 971.2,72.5 973.2,64.5 976.2,75.0 980.0,95.0 983.8,120.0 986.2,150.0 990.0,170.0 996.2,178.8 1005.0,182.0 1017.5,181.2 1035.0,182.5 1047.5,183.8 1060.0,182.0 1072.5,183.0 1085.0,182.0 1096.2,180.5 1103.8,182.5" fill="none" stroke="#2424c0" stroke-width="2.0" stroke-linejoin="round"/>
<polyline points="666.0,307.3 672.9,307.3 680.7,316.5 688.6,315.2 696.4,308.1 702.9,309.9 709.5,312.6 716.0,315.2 722.6,309.9 729.1,313.9 735.6,309.9 740.9,317.8 747.4,317.8 752.6,312.6 760.0,320.4 765.7,309.9 773.6,308.6 784.0,312.6 797.1,307.3 805.0,308.6 810.2,305.5 816.7,307.3 823.3,306.0 828.5,320.4 833.7,315.2 840.3,307.3 846.8,313.3 859.9,312.6 867.7,306.0 873.0,303.4 880.0,301.5 886.0,297.5 891.4,295.2 896.0,302.5 903.0,304.8 911.0,306.0 916.2,309.5 922.6,287.4 934.5,287.4 948.4,311.0 956.0,306.7 960.3,307.8 973.2,287.4 979.7,249.7 985.1,234.6 993.7,256.1 1005.5,305.7 1012.0,311.0 1023.8,307.8 1029.2,312.1 1036.7,310.0 1057.2,321.8 1068.0,324.0 1074.4,328.3 1089.5,323.3 1098.1,325.5 1103.5,321.8" fill="none" stroke="#2424c0" stroke-width="2.0" stroke-linejoin="round"/>
<polyline points="669.0,524.8 674.0,524.8 679.0,524.8 684.0,524.8 689.0,524.8 694.0,524.8 699.0,524.8 704.0,524.8 709.0,524.8 714.0,524.8 719.0,524.8 724.0,524.8 729.0,524.8 730.2,524.9 732.6,519.4 734.4,511.5 735.2,450.0 735.7,381.0" fill="none" stroke="#2424c0" stroke-width="2.0" stroke-linejoin="round"/>
<polyline points="752.4,381.0 753.2,450.0 754.5,492.7 758.5,508.4 767.1,513.9 782.8,519.4 798.5,522.5 814.2,523.8 822.0,523.3 824.4,516.2 828.3,477.0 831.4,445.6 833.8,429.9 840.8,428.0 844.0,445.6 847.1,477.0 850.3,503.7 853.4,512.3 856.5,514.7 859.7,510.0 862.8,477.0 866.0,445.6 868.8,435.4 871.4,440.9 873.8,461.3 876.9,492.7 880.1,513.1 884.0,518.6 887.9,519.4 892.6,511.5 895.8,506.8 898.0,508.0 901.2,512.5 906.2,520.0 911.2,523.0 925.0,523.5 930.0,524.2 935.0,524.4 940.0,524.1 945.0,524.2 950.0,524.3 955.0,524.5 960.0,524.1 965.0,524.4 970.0,524.3 975.0,524.3 980.0,524.1 985.0,524.1 990.0,523.9 995.0,524.0 1000.0,523.9 1005.0,524.3 1010.0,524.1 1015.0,524.0 1020.0,524.0 1025.0,524.4 1030.0,524.4 1035.0,524.3 1040.0,524.1 1045.0,524.0 1050.0,524.1 1055.0,524.2 1060.0,524.0 1065.0,524.2 1070.0,524.1 1075.0,524.5 1080.0,524.5 1085.0,524.2 1090.0,524.0 1095.0,524.5 1100.0,524.1 1105.0,524.1 1108.0,524.2" fill="none" stroke="#2424c0" stroke-width="2.0" stroke-linejoin="round"/>
<polyline points="669.0,669.9 674.0,669.9 679.0,669.9 684.0,669.9 689.0,669.9 694.0,669.9 699.0,669.9 704.0,669.9 709.0,669.9 714.0,669.9 719.0,669.9 724.0,669.9 729.0,669.9 733.0,669.9 734.9,669.9 738.8,666.7 743.5,664.4 746.7,660.4 749.8,651.0 753.7,637.7 755.3,636.4 757.7,636.9 760.0,646.3 763.2,657.3 767.1,662.8 771.8,665.1 777.3,667.5 782.0,669.1 785.9,667.5 790.6,663.6 794.5,662.8 798.5,665.1 803.2,668.3 807.9,668.6 814.2,669.1 821.2,669.1 824.4,657.3 826.7,622.8 829.1,591.4 830.6,582.0 834.3,570.2 836.9,582.0 839.3,607.1 841.6,638.5 844.0,662.0 847.1,668.3 854.2,668.6 857.3,654.2 860.5,638.5 865.2,622.0 868.3,633.8 872.2,654.2 876.9,668.3 886.4,669.1 891.1,666.7 895.0,666.0 900.0,668.8 903.8,670.0 908.0,669.8 913.0,670.0 918.0,670.0 923.0,670.0 928.0,669.9 933.0,670.0 938.0,669.8 943.0,669.9 948.0,669.8 953.0,670.0 958.0,669.8 963.0,669.8 968.0,669.9 973.0,669.9 978.0,670.0 983.0,670.0 988.0,670.1 993.0,670.1 998.0,670.1 1003.0,670.2 1008.0,670.0 1013.0,669.9 1018.0,670.2 1023.0,669.9 1028.0,670.1 1033.0,670.1 1038.0,669.8 1043.0,670.1 1048.0,670.2 1053.0,670.1 1058.0,670.1 1063.0,670.1 1068.0,669.9 1073.0,670.0 1078.0,670.0 1083.0,670.1 1088.0,670.1 1093.0,670.1 1098.0,670.0 1103.0,670.2 1108.0,670.0" fill="none" stroke="#2424c0" stroke-width="2.0" stroke-linejoin="round"/>
<polyline points="669.5,860.8 674.5,860.8 679.5,860.8 684.5,860.8 689.5,860.8 694.5,860.8 699.5,860.8 704.5,860.8 709.5,860.8 714.5,860.8 719.5,860.8 724.5,860.8 729.5,860.8 734.5,860.8 739.5,860.8 744.5,860.8 749.5,860.8 754.5,860.8 759.5,860.8 764.5,860.8 769.5,860.8 774.5,860.8 779.5,860.8 784.5,860.8 789.5,860.8 794.5,860.8 799.5,860.8 804.5,860.8 808.0,860.8 810.0,860.8 821.2,860.4 824.0,854.7 826.8,818.2 829.6,783.2 831.8,766.3 833.6,755.8 835.3,762.1 836.7,768.4 838.8,763.5 841.6,760.7 844.4,770.5 846.5,787.4 849.3,818.2 852.1,840.7 856.3,845.6 859.1,839.3 861.2,825.3 863.3,790.2 866.1,755.1 868.2,734.0 869.6,734.7 871.8,739.6 873.9,762.1 876.7,790.2 878.8,832.3 881.6,844.9 884.4,847.7 887.9,847.7 890.7,836.5 896.3,822.5 899.8,832.3 902.6,843.5 905.4,851.9 908.2,856.8 911.8,859.6 918.1,858.9 925.1,859.6 930.0,860.3 935.0,860.3 940.0,860.0 945.0,859.9 950.0,860.0 955.0,860.1 960.0,860.0 965.0,860.4 970.0,860.2 975.0,860.3 980.0,860.3 985.0,860.3 990.0,860.2 995.0,859.9 1000.0,860.4 1005.0,860.3 1010.0,860.2 1015.0,860.2 1020.0,860.3 1025.0,859.9 1030.0,860.3 1035.0,860.1 1040.0,859.9 1045.0,860.1 1050.0,860.3 1055.0,860.0 1060.0,860.3 1065.0,860.5 1070.0,860.2 1075.0,860.1 1080.0,860.2 1085.0,860.3 1090.0,860.4 1095.0,860.3 1100.0,860.3 1105.0,859.9 1108.0,860.2" fill="none" stroke="#2424c0" stroke-width="2.0" stroke-linejoin="round"/>
<polyline points="669.5,1005.9 674.5,1005.9 679.5,1005.9 684.5,1005.9 689.5,1005.9 694.5,1005.9 699.5,1005.9 704.5,1005.9 709.5,1005.9 714.5,1005.9 719.5,1005.9 724.5,1005.9 729.5,1005.9 734.5,1005.9 739.5,1005.9 742.0,1005.9 743.3,1005.5 745.7,999.3 749.6,980.4 752.8,960.8 755.1,960.4 757.9,960.8 760.6,974.2 763.7,989.9 768.4,996.9 772.4,999.3 777.1,1001.6 781.0,1003.2 784.9,1002.4 789.6,996.9 793.6,994.3 797.5,997.7 802.2,1002.1 806.9,1004.0 813.2,1005.1 819.5,1004.8 822.6,999.3 824.9,974.2 827.3,939.6 830.1,906.7 834.4,893.3 837.5,906.7 839.9,923.9 842.2,955.3 844.6,993.0 848.5,1002.4 854.0,1003.2 855.5,999.3 858.7,980.4 862.6,953.8 865.3,938.9 868.1,950.6 871.2,967.9 874.4,988.3 878.3,1004.0 885.4,1004.8 890.1,1001.6 894.8,998.5 898.7,1002.4 902.6,1005.5 907.0,1005.4 912.0,1005.5 917.0,1005.7 922.0,1005.5 927.0,1005.6 932.0,1005.3 937.0,1005.3 942.0,1005.5 947.0,1005.7 952.0,1005.7 957.0,1005.7 962.0,1005.5 967.0,1005.6 972.0,1005.6 977.0,1005.6 982.0,1005.4 987.0,1005.8 992.0,1005.4 997.0,1005.9 1002.0,1005.9 1007.0,1005.3 1012.0,1005.6 1017.0,1005.8 1022.0,1005.9 1027.0,1005.6 1032.0,1005.5 1037.0,1005.4 1042.0,1005.9 1047.0,1005.4 1052.0,1005.6 1057.0,1005.4 1062.0,1005.6 1067.0,1005.9 1072.0,1005.4 1077.0,1005.8 1082.0,1005.6 1087.0,1005.8 1092.0,1005.7 1097.0,1005.4 1102.0,1005.8 1107.0,1005.6 1108.0,1005.6" fill="none" stroke="#2424c0" stroke-width="2.0" stroke-linejoin="round"/>
<line x1="350" y1="58.6" x2="350" y2="163.1" stroke="#111" stroke-width="1.7"/>
<line x1="350" y1="162.3" x2="528.5" y2="162.3" stroke="#111" stroke-width="1.7"/>
<line x1="350" y1="162.3" x2="350" y2="165.5" stroke="#111" stroke-width="1.5"/>
<line x1="379.75" y1="162.3" x2="379.75" y2="164.5" stroke="#111" stroke-width="1.5"/>
<line x1="409.5" y1="162.3" x2="409.5" y2="165.5" stroke="#111" stroke-width="1.5"/>
<line x1="439.25" y1="162.3" x2="439.25" y2="164.5" stroke="#111" stroke-width="1.5"/>
<line x1="469" y1="162.3" x2="469" y2="165.5" stroke="#111" stroke-width="1.5"/>
<line x1="498.75" y1="162.3" x2="498.75" y2="164.5" stroke="#111" stroke-width="1.5"/>
<line x1="528.5" y1="162.3" x2="528.5" y2="165.5" stroke="#111" stroke-width="1.5"/>
<text x="350" y="175.6" font-size="11.6" font-weight="bold" fill="#000" text-anchor="middle">266</text>
<text x="409.5" y="175.6" font-size="11.6" font-weight="bold" fill="#000" text-anchor="middle">268</text>
<text x="469" y="175.6" font-size="11.6" font-weight="bold" fill="#000" text-anchor="middle">270</text>
<text x="528.5" y="175.6" font-size="11.6" font-weight="bold" fill="#000" text-anchor="middle">272</text>
<line x1="346.6" y1="87.2" x2="350" y2="87.2" stroke="#111" stroke-width="1.5"/>
<text x="344" y="91.6" font-size="12.3" font-weight="bold" fill="#000" text-anchor="end">4.0x10<tspan dy="-7.63" font-size="6.5">5</tspan></text>
<line x1="346.6" y1="125" x2="350" y2="125" stroke="#111" stroke-width="1.5"/>
<text x="344" y="129.4" font-size="12.3" font-weight="bold" fill="#000" text-anchor="end">2.0x10<tspan dy="-7.63" font-size="6.5">5</tspan></text>
<line x1="346.6" y1="162.3" x2="350" y2="162.3" stroke="#111" stroke-width="1.5"/>
<text x="344" y="163.3" font-size="12.3" font-weight="bold" fill="#000" text-anchor="end">0.0</text>
<line x1="347.6" y1="68" x2="350" y2="68" stroke="#111" stroke-width="1.5"/>
<line x1="347.6" y1="106.1" x2="350" y2="106.1" stroke="#111" stroke-width="1.5"/>
<line x1="347.6" y1="144" x2="350" y2="144" stroke="#111" stroke-width="1.5"/>
<polyline points="350.0,162.0 352.0,162.0 354.0,162.0 356.0,162.0 358.0,162.0 360.0,162.0 362.0,162.0 364.0,162.0 366.0,162.0 368.1,162.0 370.1,162.0 372.1,162.0 374.1,162.0 376.1,162.0 378.1,162.0 380.1,162.0 382.1,162.0 384.1,162.0 386.1,162.0 388.1,162.0 390.1,162.0 392.1,162.0 394.1,162.0 396.1,162.0 398.1,162.0 400.1,162.0 402.1,162.0 404.2,162.0 406.2,162.0 408.2,162.0 410.2,162.0 412.2,162.0 414.2,162.0 416.2,162.0 418.2,162.0 420.2,162.0 422.2,162.0 424.2,162.0 426.2,162.0 428.2,162.0 430.2,162.0 432.2,162.0 434.2,162.0 436.2,162.0 438.2,162.0 440.3,162.0 442.3,162.0 444.3,162.0 446.3,162.0 448.3,162.0 450.3,162.0 452.3,162.0 454.3,162.0 456.3,162.0 458.3,162.0 460.3,162.0 462.3,162.0 464.3,162.0 466.3,162.0 468.3,162.0 470.3,162.0 472.3,162.0 474.3,162.0 476.4,162.0 478.4,162.0 480.4,162.0 482.4,162.0 484.4,162.0 486.4,162.0 488.4,162.0 490.4,162.0 492.4,162.0 494.4,162.0 496.4,162.0 498.4,162.0 500.4,162.0 502.4,162.0 504.4,162.0 506.4,162.0 508.4,162.0 510.4,162.0 512.5,162.0 514.5,162.0 516.5,162.0 518.5,162.0 520.5,162.0 522.5,162.0 524.5,162.0 526.5,162.0 528.5,162.0" fill="none" stroke="#2424c0" stroke-width="2.0" stroke-linejoin="round"/>
<line x1="379.75" y1="162.30" x2="379.75" y2="74.40" stroke="#2424c0" stroke-width="2.2"/>
<line x1="380.64" y1="162.30" x2="380.64" y2="84.30" stroke="#2424c0" stroke-width="2.0"/>
<line x1="385.70" y1="162.30" x2="385.70" y2="160.00" stroke="#2424c0" stroke-width="2.0"/>
<line x1="409.50" y1="162.30" x2="409.50" y2="147.60" stroke="#2424c0" stroke-width="2.0"/>
<line x1="439.25" y1="162.30" x2="439.25" y2="108.60" stroke="#2424c0" stroke-width="2.2"/>
<line x1="469.00" y1="162.30" x2="469.00" y2="157.70" stroke="#2424c0" stroke-width="2.0"/>
<line x1="498.75" y1="162.30" x2="498.75" y2="153.80" stroke="#2424c0" stroke-width="2.0"/>
<text x="359.2" y="70.5" font-size="15" font-weight="bold" fill="#000" text-anchor="start">266.999</text>
<text x="416.2" y="102.1" font-size="15" font-weight="bold" fill="#000" text-anchor="start">268.993</text>
<text x="472.5" y="147" font-size="15" font-weight="bold" fill="#000" text-anchor="start">270.990</text>
<line x1="348.7" y1="204.1" x2="348.7" y2="311.9" stroke="#111" stroke-width="1.7"/>
<line x1="348.7" y1="311.1" x2="526.4" y2="311.1" stroke="#111" stroke-width="1.7"/>
<line x1="348.7" y1="311.1" x2="348.7" y2="314.3" stroke="#111" stroke-width="1.5"/>
<line x1="378.32" y1="311.1" x2="378.32" y2="313.3" stroke="#111" stroke-width="1.5"/>
<line x1="407.93" y1="311.1" x2="407.93" y2="314.3" stroke="#111" stroke-width="1.5"/>
<line x1="437.55" y1="311.1" x2="437.55" y2="313.3" stroke="#111" stroke-width="1.5"/>
<line x1="467.17" y1="311.1" x2="467.17" y2="314.3" stroke="#111" stroke-width="1.5"/>
<line x1="496.78" y1="311.1" x2="496.78" y2="313.3" stroke="#111" stroke-width="1.5"/>
<line x1="526.4" y1="311.1" x2="526.4" y2="314.3" stroke="#111" stroke-width="1.5"/>
<text x="348.7" y="324.7" font-size="11.6" font-weight="bold" fill="#000" text-anchor="middle">266</text>
<text x="407.93" y="324.7" font-size="11.6" font-weight="bold" fill="#000" text-anchor="middle">268</text>
<text x="467.17" y="324.7" font-size="11.6" font-weight="bold" fill="#000" text-anchor="middle">270</text>
<text x="526.4" y="324.7" font-size="11.6" font-weight="bold" fill="#000" text-anchor="middle">272</text>
<line x1="345.3" y1="211.7" x2="348.7" y2="211.7" stroke="#111" stroke-width="1.5"/>
<text x="344.2" y="216.1" font-size="12.5" font-weight="bold" fill="#000" text-anchor="end">4.0x10<tspan dy="-7.75" font-size="6.6">4</tspan></text>
<line x1="345.3" y1="261" x2="348.7" y2="261" stroke="#111" stroke-width="1.5"/>
<text x="344.2" y="265.4" font-size="12.5" font-weight="bold" fill="#000" text-anchor="end">2.0x10<tspan dy="-7.75" font-size="6.6">4</tspan></text>
<line x1="345.3" y1="311.1" x2="348.7" y2="311.1" stroke="#111" stroke-width="1.5"/>
<text x="344.2" y="312.1" font-size="12.5" font-weight="bold" fill="#000" text-anchor="end">0.0</text>
<line x1="346.3" y1="236.3" x2="348.7" y2="236.3" stroke="#111" stroke-width="1.5"/>
<line x1="346.3" y1="286" x2="348.7" y2="286" stroke="#111" stroke-width="1.5"/>
<polyline points="348.7,310.8 350.7,310.8 352.7,310.8 354.8,310.8 356.8,310.8 358.8,310.8 360.8,310.8 362.8,310.8 364.9,310.8 366.9,310.8 368.9,310.8 370.9,310.8 372.9,310.8 375.0,310.8 377.0,310.8 379.0,310.8 381.0,310.8 383.0,310.8 385.0,310.8 387.1,310.8 389.1,310.8 391.1,310.8 393.1,310.8 395.1,310.8 397.2,310.8 399.2,310.8 401.2,310.8 403.2,310.8 405.2,310.8 407.3,310.8 409.3,310.8 411.3,310.8 413.3,310.8 415.3,310.8 417.4,310.8 419.4,310.8 421.4,310.8 423.4,310.8 425.4,310.8 427.5,310.8 429.5,310.8 431.5,310.8 433.5,310.8 435.5,310.8 437.5,310.8 439.6,310.8 441.6,310.8 443.6,310.8 445.6,310.8 447.6,310.8 449.7,310.8 451.7,310.8 453.7,310.8 455.7,310.8 457.7,310.8 459.8,310.8 461.8,310.8 463.8,310.8 465.8,310.8 467.8,310.8 469.9,310.8 471.9,310.8 473.9,310.8 475.9,310.8 477.9,310.8 480.0,310.8 482.0,310.8 484.0,310.8 486.0,310.8 488.0,310.8 490.1,310.8 492.1,310.8 494.1,310.8 496.1,310.8 498.1,310.8 500.1,310.8 502.2,310.8 504.2,310.8 506.2,310.8 508.2,310.8 510.2,310.8 512.3,310.8 514.3,310.8 516.3,310.8 518.3,310.8 520.3,310.8 522.4,310.8 524.4,310.8 526.4,310.8" fill="none" stroke="#2424c0" stroke-width="2.0" stroke-linejoin="round"/>
<line x1="378.32" y1="311.10" x2="378.32" y2="216.30" stroke="#2424c0" stroke-width="2.2"/>
<line x1="379.80" y1="311.10" x2="379.80" y2="249.60" stroke="#2424c0" stroke-width="2.0"/>
<line x1="407.93" y1="311.10" x2="407.93" y2="295.70" stroke="#2424c0" stroke-width="2.0"/>
<line x1="437.55" y1="311.10" x2="437.55" y2="253.40" stroke="#2424c0" stroke-width="2.2"/>
<line x1="467.17" y1="311.10" x2="467.17" y2="305.30" stroke="#2424c0" stroke-width="2.0"/>
<line x1="496.78" y1="311.10" x2="496.78" y2="301.50" stroke="#2424c0" stroke-width="2.0"/>
<text x="356.5" y="210.5" font-size="15" font-weight="bold" fill="#000" text-anchor="start">266.999</text>
<text x="412.9" y="247.9" font-size="15" font-weight="bold" fill="#000" text-anchor="start">268.993</text>
<text x="468.5" y="292.6" font-size="15" font-weight="bold" fill="#000" text-anchor="start">270.990</text>
<line x1="356.3" y1="392.9" x2="356.3" y2="497.3" stroke="#111" stroke-width="1.7"/>
<line x1="356.3" y1="496.5" x2="540" y2="496.5" stroke="#111" stroke-width="1.7"/>
<line x1="356.3" y1="496.5" x2="356.3" y2="498.7" stroke="#111" stroke-width="1.5"/>
<line x1="374.67" y1="496.5" x2="374.67" y2="499.7" stroke="#111" stroke-width="1.5"/>
<line x1="393.04" y1="496.5" x2="393.04" y2="498.7" stroke="#111" stroke-width="1.5"/>
<line x1="411.41" y1="496.5" x2="411.41" y2="499.7" stroke="#111" stroke-width="1.5"/>
<line x1="429.78" y1="496.5" x2="429.78" y2="498.7" stroke="#111" stroke-width="1.5"/>
<line x1="448.15" y1="496.5" x2="448.15" y2="499.7" stroke="#111" stroke-width="1.5"/>
<line x1="466.52" y1="496.5" x2="466.52" y2="498.7" stroke="#111" stroke-width="1.5"/>
<line x1="484.89" y1="496.5" x2="484.89" y2="499.7" stroke="#111" stroke-width="1.5"/>
<line x1="503.26" y1="496.5" x2="503.26" y2="498.7" stroke="#111" stroke-width="1.5"/>
<line x1="521.63" y1="496.5" x2="521.63" y2="499.7" stroke="#111" stroke-width="1.5"/>
<line x1="540" y1="496.5" x2="540" y2="498.7" stroke="#111" stroke-width="1.5"/>
<text x="374.67" y="509.2" font-size="12.6" font-weight="bold" fill="#000" text-anchor="middle">223</text>
<text x="411.41" y="509.2" font-size="12.6" font-weight="bold" fill="#000" text-anchor="middle">224</text>
<text x="448.15" y="509.2" font-size="12.6" font-weight="bold" fill="#000" text-anchor="middle">225</text>
<text x="484.89" y="509.2" font-size="12.6" font-weight="bold" fill="#000" text-anchor="middle">226</text>
<text x="521.63" y="509.2" font-size="12.6" font-weight="bold" fill="#000" text-anchor="middle">227</text>
<line x1="352.9" y1="392.9" x2="356.3" y2="392.9" stroke="#111" stroke-width="1.5"/>
<text x="351.1" y="397.5" font-size="13.1" font-weight="normal" fill="#000" text-anchor="end">2x10<tspan dy="-8.12" font-size="6.9">6</tspan></text>
<line x1="352.9" y1="444.2" x2="356.3" y2="444.2" stroke="#111" stroke-width="1.5"/>
<text x="351.1" y="448.8" font-size="13.1" font-weight="normal" fill="#000" text-anchor="end">1x10<tspan dy="-8.12" font-size="6.9">6</tspan></text>
<line x1="352.9" y1="496.5" x2="356.3" y2="496.5" stroke="#111" stroke-width="1.5"/>
<text x="351.1" y="497.5" font-size="13.1" font-weight="normal" fill="#000" text-anchor="end">0</text>
<line x1="353.9" y1="418.5" x2="356.3" y2="418.5" stroke="#111" stroke-width="1.5"/>
<line x1="353.9" y1="470.3" x2="356.3" y2="470.3" stroke="#111" stroke-width="1.5"/>
<polyline points="356.3,496.2 358.3,496.2 360.3,496.2 362.4,496.2 364.4,496.2 366.4,496.2 368.4,496.2 370.4,496.2 372.4,496.2 374.5,496.2 376.5,496.2 378.5,496.2 380.5,496.2 382.5,496.2 384.6,496.2 386.6,496.2 388.6,496.2 390.6,496.2 392.6,496.2 394.7,496.2 396.7,496.2 398.7,496.2 400.7,496.2 402.7,496.2 404.7,496.2 406.8,496.2 408.8,496.2 410.8,496.2 412.8,496.2 414.8,496.2 416.9,496.2 418.9,496.2 420.9,496.2 422.9,496.2 424.9,496.2 427.0,496.2 429.0,496.2 431.0,496.2 433.0,496.2 435.0,496.2 437.0,496.2 439.1,496.2 441.1,496.2 443.1,496.2 445.1,496.2 447.1,496.2 449.2,496.2 451.2,496.2 453.2,496.2 455.2,496.2 457.2,496.2 459.3,496.2 461.3,496.2 463.3,496.2 465.3,496.2 467.3,496.2 469.3,496.2 471.4,496.2 473.4,496.2 475.4,496.2 477.4,496.2 479.4,496.2 481.5,496.2 483.5,496.2 485.5,496.2 487.5,496.2 489.5,496.2 491.6,496.2 493.6,496.2 495.6,496.2 497.6,496.2 499.6,496.2 501.6,496.2 503.7,496.2 505.7,496.2 507.7,496.2 509.7,496.2 511.7,496.2 513.8,496.2 515.8,496.2 517.8,496.2 519.8,496.2 521.8,496.2 523.9,496.2 525.9,496.2 527.9,496.2 529.9,496.2 531.9,496.2 533.9,496.2 536.0,496.2 538.0,496.2 540.0,496.2" fill="none" stroke="#2424c0" stroke-width="2.0" stroke-linejoin="round"/>
<line x1="374.67" y1="496.50" x2="374.67" y2="405.50" stroke="#2424c0" stroke-width="2.2"/>
<line x1="373.94" y1="496.50" x2="373.94" y2="482.00" stroke="#2424c0" stroke-width="2.0"/>
<line x1="380.18" y1="496.50" x2="380.18" y2="491.50" stroke="#2424c0" stroke-width="2.0"/>
<line x1="411.41" y1="496.50" x2="411.41" y2="492.70" stroke="#2424c0" stroke-width="2.0"/>
<line x1="448.15" y1="496.50" x2="448.15" y2="439.10" stroke="#2424c0" stroke-width="2.2"/>
<line x1="453.66" y1="496.50" x2="453.66" y2="493.00" stroke="#2424c0" stroke-width="2.0"/>
<line x1="484.89" y1="496.50" x2="484.89" y2="494.00" stroke="#2424c0" stroke-width="2.0"/>
<line x1="521.63" y1="496.50" x2="521.63" y2="489.00" stroke="#2424c0" stroke-width="2.0"/>
<text x="363.3" y="400" font-size="15" font-weight="normal" fill="#000" text-anchor="start">222.969</text>
<text x="419.2" y="432" font-size="15" font-weight="normal" fill="#000" text-anchor="start">224.966</text>
<text x="491.3" y="480.9" font-size="15" font-weight="normal" fill="#000" text-anchor="start">226.963</text>
<line x1="355.6" y1="545.3" x2="355.6" y2="651.5" stroke="#111" stroke-width="1.7"/>
<line x1="355.6" y1="650.7" x2="541.7" y2="650.7" stroke="#111" stroke-width="1.7"/>
<line x1="355.6" y1="650.7" x2="355.6" y2="652.9" stroke="#111" stroke-width="1.5"/>
<line x1="374.21" y1="650.7" x2="374.21" y2="653.9" stroke="#111" stroke-width="1.5"/>
<line x1="392.82" y1="650.7" x2="392.82" y2="652.9" stroke="#111" stroke-width="1.5"/>
<line x1="411.43" y1="650.7" x2="411.43" y2="653.9" stroke="#111" stroke-width="1.5"/>
<line x1="430.04" y1="650.7" x2="430.04" y2="652.9" stroke="#111" stroke-width="1.5"/>
<line x1="448.65" y1="650.7" x2="448.65" y2="653.9" stroke="#111" stroke-width="1.5"/>
<line x1="467.26" y1="650.7" x2="467.26" y2="652.9" stroke="#111" stroke-width="1.5"/>
<line x1="485.87" y1="650.7" x2="485.87" y2="653.9" stroke="#111" stroke-width="1.5"/>
<line x1="504.48" y1="650.7" x2="504.48" y2="652.9" stroke="#111" stroke-width="1.5"/>
<line x1="523.09" y1="650.7" x2="523.09" y2="653.9" stroke="#111" stroke-width="1.5"/>
<line x1="541.7" y1="650.7" x2="541.7" y2="652.9" stroke="#111" stroke-width="1.5"/>
<text x="374.21" y="664.1" font-size="12.6" font-weight="bold" fill="#000" text-anchor="middle">223</text>
<text x="411.43" y="664.1" font-size="12.6" font-weight="bold" fill="#000" text-anchor="middle">224</text>
<text x="448.65" y="664.1" font-size="12.6" font-weight="bold" fill="#000" text-anchor="middle">225</text>
<text x="485.87" y="664.1" font-size="12.6" font-weight="bold" fill="#000" text-anchor="middle">226</text>
<text x="523.09" y="664.1" font-size="12.6" font-weight="bold" fill="#000" text-anchor="middle">227</text>
<line x1="352.2" y1="545.3" x2="355.6" y2="545.3" stroke="#111" stroke-width="1.5"/>
<text x="349.4" y="549.6" font-size="12.8" font-weight="bold" fill="#000" text-anchor="end">1x10<tspan dy="-7.94" font-size="6.8">5</tspan></text>
<line x1="352.2" y1="597.9" x2="355.6" y2="597.9" stroke="#111" stroke-width="1.5"/>
<text x="349.4" y="602.2" font-size="12.8" font-weight="bold" fill="#000" text-anchor="end">5x10<tspan dy="-7.94" font-size="6.8">4</tspan></text>
<line x1="352.2" y1="650.7" x2="355.6" y2="650.7" stroke="#111" stroke-width="1.5"/>
<text x="349.4" y="651.7" font-size="12.8" font-weight="bold" fill="#000" text-anchor="end">0</text>
<line x1="353.2" y1="571.6" x2="355.6" y2="571.6" stroke="#111" stroke-width="1.5"/>
<line x1="353.2" y1="624.3" x2="355.6" y2="624.3" stroke="#111" stroke-width="1.5"/>
<polyline points="356.5,650.2 358.7,650.2 360.9,649.7 363.1,650.2 365.3,650.1 367.5,649.9 369.7,650.0 370.5,650.2 371.0,624.0 371.5,564.0 372.3,556.6 373.8,556.6 374.2,590.0 374.6,615.0 375.2,640.0 375.8,650.2 376.3,644.6 378.0,644.0 380.0,645.5 382.3,648.0 383.0,650.2 384.0,649.8 386.2,650.2 388.4,650.2 390.6,650.2 392.8,649.2 395.0,649.4 397.2,649.4 399.4,650.0 401.6,649.2 403.8,650.1 406.0,649.7 408.2,648.8 409.6,650.2 410.2,648.0 410.8,650.2 412.0,649.1 414.2,649.8 416.4,649.9 416.9,650.2 417.5,639.7 418.2,639.7 418.9,650.2 420.0,649.8 422.2,650.0 424.4,650.0 426.6,650.1 428.8,650.0 431.0,649.8 433.2,649.9 435.4,650.1 437.6,650.1 439.8,649.6 442.0,650.0 444.2,649.8 446.4,649.2 446.4,650.2 446.9,620.0 447.3,595.4 447.9,596.0 448.4,640.0 448.9,609.0 449.5,609.0 450.3,646.0 451.0,620.2 451.8,620.2 452.5,650.2 455.6,650.2 456.2,643.7 456.9,643.7 457.5,650.2 459.0,649.9 461.2,649.9 463.4,649.5 465.6,649.2 467.8,649.6 470.0,649.4 472.2,650.0 474.4,649.4 476.6,650.0 478.8,649.4 481.0,649.9 483.2,649.9 485.0,650.2 485.5,646.4 488.0,647.0 490.0,646.4 492.0,647.5 494.7,648.0 495.5,650.2 497.0,649.9 499.2,649.1 501.4,649.9 503.6,649.8 505.8,649.8 508.0,650.0 510.2,649.9 512.4,650.1 514.6,648.8 516.8,650.2 519.0,649.5 521.2,650.0 521.8,650.2 522.5,642.0 523.5,642.0 524.5,648.0 526.0,650.2 530.3,650.2 531.0,635.6 532.2,635.6 533.5,650.2 535.0,649.6 537.2,650.0 539.4,650.0 541.6,650.0 541.7,650.2" fill="none" stroke="#2424c0" stroke-width="1.7" stroke-linejoin="round"/>
<text x="357.8" y="551.6" font-size="15" font-weight="normal" fill="#000" text-anchor="start">222.969</text>
<text x="419.2" y="584.5" font-size="15" font-weight="normal" fill="#000" text-anchor="start">224.966</text>
<text x="488" y="612.3" font-size="15" font-weight="normal" fill="#000" text-anchor="start">226.963</text>
<line x1="523.1" y1="620.2" x2="523.1" y2="633" stroke="#000" stroke-width="1.6"/>
<polygon points="520.6,630.2 525.6,630.2 523.1,638.6" fill="#000"/>
<line x1="357" y1="737.9" x2="357" y2="841.6" stroke="#111" stroke-width="1.7"/>
<line x1="357" y1="840.8" x2="536.5" y2="840.8" stroke="#111" stroke-width="1.7"/>
<line x1="357" y1="840.8" x2="357" y2="844" stroke="#111" stroke-width="1.5"/>
<line x1="379.44" y1="840.8" x2="379.44" y2="843" stroke="#111" stroke-width="1.5"/>
<line x1="401.88" y1="840.8" x2="401.88" y2="844" stroke="#111" stroke-width="1.5"/>
<line x1="424.31" y1="840.8" x2="424.31" y2="843" stroke="#111" stroke-width="1.5"/>
<line x1="446.75" y1="840.8" x2="446.75" y2="844" stroke="#111" stroke-width="1.5"/>
<line x1="469.19" y1="840.8" x2="469.19" y2="843" stroke="#111" stroke-width="1.5"/>
<line x1="491.62" y1="840.8" x2="491.62" y2="844" stroke="#111" stroke-width="1.5"/>
<line x1="514.06" y1="840.8" x2="514.06" y2="843" stroke="#111" stroke-width="1.5"/>
<line x1="536.5" y1="840.8" x2="536.5" y2="844" stroke="#111" stroke-width="1.5"/>
<text x="357" y="854.2" font-size="12.2" font-weight="bold" fill="#000" text-anchor="middle">160</text>
<text x="401.88" y="854.2" font-size="12.2" font-weight="bold" fill="#000" text-anchor="middle">161</text>
<text x="446.75" y="854.2" font-size="12.2" font-weight="bold" fill="#000" text-anchor="middle">162</text>
<text x="491.62" y="854.2" font-size="12.2" font-weight="bold" fill="#000" text-anchor="middle">163</text>
<text x="536.5" y="854.2" font-size="12.2" font-weight="bold" fill="#000" text-anchor="middle">164</text>
<line x1="353.6" y1="758.2" x2="357" y2="758.2" stroke="#111" stroke-width="1.5"/>
<text x="352" y="762.4" font-size="12.3" font-weight="bold" fill="#000" text-anchor="end">4x10<tspan dy="-7.63" font-size="6.5">5</tspan></text>
<line x1="353.6" y1="799.9" x2="357" y2="799.9" stroke="#111" stroke-width="1.5"/>
<text x="352" y="804.1" font-size="12.3" font-weight="bold" fill="#000" text-anchor="end">2x10<tspan dy="-7.63" font-size="6.5">5</tspan></text>
<line x1="353.6" y1="840.8" x2="357" y2="840.8" stroke="#111" stroke-width="1.5"/>
<text x="352" y="841.8" font-size="12.3" font-weight="bold" fill="#000" text-anchor="end">0</text>
<line x1="354.6" y1="779" x2="357" y2="779" stroke="#111" stroke-width="1.5"/>
<line x1="354.6" y1="820.3" x2="357" y2="820.3" stroke="#111" stroke-width="1.5"/>
<polyline points="357.0,840.5 359.0,840.5 361.0,840.5 363.1,840.5 365.1,840.5 367.1,840.5 369.1,840.5 371.1,840.5 373.1,840.5 375.2,840.5 377.2,840.5 379.2,840.5 381.2,840.5 383.2,840.5 385.2,840.5 387.3,840.5 389.3,840.5 391.3,840.5 393.3,840.5 395.3,840.5 397.3,840.5 399.4,840.5 401.4,840.5 403.4,840.5 405.4,840.5 407.4,840.5 409.4,840.5 411.5,840.5 413.5,840.5 415.5,840.5 417.5,840.5 419.5,840.5 421.5,840.5 423.6,840.5 425.6,840.5 427.6,840.5 429.6,840.5 431.6,840.5 433.6,840.5 435.7,840.5 437.7,840.5 439.7,840.5 441.7,840.5 443.7,840.5 445.7,840.5 447.8,840.5 449.8,840.5 451.8,840.5 453.8,840.5 455.8,840.5 457.8,840.5 459.9,840.5 461.9,840.5 463.9,840.5 465.9,840.5 467.9,840.5 469.9,840.5 472.0,840.5 474.0,840.5 476.0,840.5 478.0,840.5 480.0,840.5 482.0,840.5 484.1,840.5 486.1,840.5 488.1,840.5 490.1,840.5 492.1,840.5 494.1,840.5 496.2,840.5 498.2,840.5 500.2,840.5 502.2,840.5 504.2,840.5 506.2,840.5 508.3,840.5 510.3,840.5 512.3,840.5 514.3,840.5 516.3,840.5 518.3,840.5 520.4,840.5 522.4,840.5 524.4,840.5 526.4,840.5 528.4,840.5 530.4,840.5 532.5,840.5 534.5,840.5 536.5,840.5" fill="none" stroke="#2424c0" stroke-width="2.0" stroke-linejoin="round"/>
<line x1="401.88" y1="840.80" x2="401.88" y2="751.80" stroke="#2424c0" stroke-width="2.2"/>
<line x1="403.22" y1="840.80" x2="403.22" y2="790.00" stroke="#2424c0" stroke-width="2.0"/>
<line x1="408.61" y1="840.80" x2="408.61" y2="836.00" stroke="#2424c0" stroke-width="2.0"/>
<line x1="446.75" y1="840.80" x2="446.75" y2="838.00" stroke="#2424c0" stroke-width="2.0"/>
<line x1="491.62" y1="840.80" x2="491.62" y2="813.00" stroke="#2424c0" stroke-width="2.0"/>
<text x="374.7" y="745.5" font-size="15" font-weight="bold" fill="#000" text-anchor="start">160.976</text>
<text x="455.6" y="803.7" font-size="15" font-weight="bold" fill="#000" text-anchor="start">162.973</text>
<line x1="371.7" y1="871.4" x2="371.7" y2="975.8" stroke="#111" stroke-width="1.7"/>
<line x1="371.7" y1="975" x2="540.3" y2="975" stroke="#111" stroke-width="1.7"/>
<line x1="371.7" y1="975" x2="371.7" y2="978.2" stroke="#111" stroke-width="1.5"/>
<line x1="392.77" y1="975" x2="392.77" y2="977.2" stroke="#111" stroke-width="1.5"/>
<line x1="413.85" y1="975" x2="413.85" y2="978.2" stroke="#111" stroke-width="1.5"/>
<line x1="434.92" y1="975" x2="434.92" y2="977.2" stroke="#111" stroke-width="1.5"/>
<line x1="456" y1="975" x2="456" y2="978.2" stroke="#111" stroke-width="1.5"/>
<line x1="477.07" y1="975" x2="477.07" y2="977.2" stroke="#111" stroke-width="1.5"/>
<line x1="498.15" y1="975" x2="498.15" y2="978.2" stroke="#111" stroke-width="1.5"/>
<line x1="519.22" y1="975" x2="519.22" y2="977.2" stroke="#111" stroke-width="1.5"/>
<line x1="540.3" y1="975" x2="540.3" y2="978.2" stroke="#111" stroke-width="1.5"/>
<text x="371.7" y="987.7" font-size="12.2" font-weight="bold" fill="#000" text-anchor="middle">160</text>
<text x="413.85" y="987.7" font-size="12.2" font-weight="bold" fill="#000" text-anchor="middle">161</text>
<text x="456" y="987.7" font-size="12.2" font-weight="bold" fill="#000" text-anchor="middle">162</text>
<text x="498.15" y="987.7" font-size="12.2" font-weight="bold" fill="#000" text-anchor="middle">163</text>
<text x="540.3" y="987.7" font-size="12.2" font-weight="bold" fill="#000" text-anchor="middle">164</text>
<line x1="368.3" y1="892.4" x2="371.7" y2="892.4" stroke="#111" stroke-width="1.5"/>
<text x="365.8" y="896" font-size="12.4" font-weight="bold" fill="#000" text-anchor="end">8x10<tspan dy="-7.69" font-size="6.6">4</tspan></text>
<line x1="368.3" y1="933.3" x2="371.7" y2="933.3" stroke="#111" stroke-width="1.5"/>
<text x="365.8" y="936.9" font-size="12.4" font-weight="bold" fill="#000" text-anchor="end">4x10<tspan dy="-7.69" font-size="6.6">4</tspan></text>
<line x1="368.3" y1="975" x2="371.7" y2="975" stroke="#111" stroke-width="1.5"/>
<text x="365.8" y="976" font-size="12.4" font-weight="bold" fill="#000" text-anchor="end">0</text>
<line x1="369.3" y1="912.8" x2="371.7" y2="912.8" stroke="#111" stroke-width="1.5"/>
<line x1="369.3" y1="954.1" x2="371.7" y2="954.1" stroke="#111" stroke-width="1.5"/>
<polyline points="371.7,974.7 373.7,974.7 375.7,974.7 377.7,974.7 379.7,974.7 381.7,974.7 383.7,974.7 385.8,974.7 387.8,974.7 389.8,974.7 391.8,974.7 393.8,974.7 395.8,974.7 397.8,974.7 399.8,974.7 401.8,974.7 403.8,974.7 405.8,974.7 407.8,974.7 409.8,974.7 411.8,974.7 413.8,974.7 415.9,974.7 417.9,974.7 419.9,974.7 421.9,974.7 423.9,974.7 425.9,974.7 427.9,974.7 429.9,974.7 431.9,974.7 433.9,974.7 435.9,974.7 437.9,974.7 439.9,974.7 441.9,974.7 444.0,974.7 446.0,974.7 448.0,974.7 450.0,974.7 452.0,974.7 454.0,974.7 456.0,974.7 458.0,974.7 460.0,974.7 462.0,974.7 464.0,974.7 466.0,974.7 468.0,974.7 470.0,974.7 472.1,974.7 474.1,974.7 476.1,974.7 478.1,974.7 480.1,974.7 482.1,974.7 484.1,974.7 486.1,974.7 488.1,974.7 490.1,974.7 492.1,974.7 494.1,974.7 496.1,974.7 498.1,974.7 500.2,974.7 502.2,974.7 504.2,974.7 506.2,974.7 508.2,974.7 510.2,974.7 512.2,974.7 514.2,974.7 516.2,974.7 518.2,974.7 520.2,974.7 522.2,974.7 524.2,974.7 526.2,974.7 528.3,974.7 530.3,974.7 532.3,974.7 534.3,974.7 536.3,974.7 538.3,974.7 540.3,974.7" fill="none" stroke="#2424c0" stroke-width="2.0" stroke-linejoin="round"/>
<line x1="413.85" y1="975.00" x2="413.85" y2="891.60" stroke="#2424c0" stroke-width="2.2"/>
<line x1="415.11" y1="975.00" x2="415.11" y2="925.00" stroke="#2424c0" stroke-width="2.0"/>
<line x1="420.17" y1="975.00" x2="420.17" y2="972.00" stroke="#2424c0" stroke-width="2.0"/>
<line x1="456.00" y1="975.00" x2="456.00" y2="970.00" stroke="#2424c0" stroke-width="2.0"/>
<line x1="498.15" y1="975.00" x2="498.15" y2="927.80" stroke="#2424c0" stroke-width="2.2"/>
<line x1="504.47" y1="975.00" x2="504.47" y2="972.00" stroke="#2424c0" stroke-width="2.0"/>
<text x="382.5" y="884" font-size="15" font-weight="bold" fill="#000" text-anchor="start">160.976</text>
<text x="464" y="919.4" font-size="15" font-weight="bold" fill="#000" text-anchor="start">162.973</text>
<line x1="715.5" y1="45.5" x2="715.5" y2="163.8" stroke="#111" stroke-width="1.7"/>
<line x1="715.5" y1="163" x2="927.5" y2="163" stroke="#111" stroke-width="1.7"/>
<line x1="715.5" y1="163" x2="715.5" y2="166.2" stroke="#111" stroke-width="1.5"/>
<line x1="742" y1="163" x2="742" y2="165.2" stroke="#111" stroke-width="1.5"/>
<line x1="768.5" y1="163" x2="768.5" y2="166.2" stroke="#111" stroke-width="1.5"/>
<line x1="795" y1="163" x2="795" y2="165.2" stroke="#111" stroke-width="1.5"/>
<line x1="821.5" y1="163" x2="821.5" y2="166.2" stroke="#111" stroke-width="1.5"/>
<line x1="848" y1="163" x2="848" y2="165.2" stroke="#111" stroke-width="1.5"/>
<line x1="874.5" y1="163" x2="874.5" y2="166.2" stroke="#111" stroke-width="1.5"/>
<line x1="901" y1="163" x2="901" y2="165.2" stroke="#111" stroke-width="1.5"/>
<line x1="927.5" y1="163" x2="927.5" y2="166.2" stroke="#111" stroke-width="1.5"/>
<text x="715.5" y="175.8" font-size="12.2" font-weight="bold" fill="#000" text-anchor="middle">298</text>
<text x="768.5" y="175.8" font-size="12.2" font-weight="bold" fill="#000" text-anchor="middle">299</text>
<text x="821.5" y="175.8" font-size="12.2" font-weight="bold" fill="#000" text-anchor="middle">300</text>
<text x="874.5" y="175.8" font-size="12.2" font-weight="bold" fill="#000" text-anchor="middle">301</text>
<text x="927.5" y="175.8" font-size="12.2" font-weight="bold" fill="#000" text-anchor="middle">302</text>
<line x1="712.1" y1="58.8" x2="715.5" y2="58.8" stroke="#111" stroke-width="1.5"/>
<text x="709.7" y="62.4" font-size="12.0" font-weight="bold" fill="#000" text-anchor="end">2x10<tspan dy="-7.44" font-size="6.4">4</tspan></text>
<line x1="712.1" y1="110.5" x2="715.5" y2="110.5" stroke="#111" stroke-width="1.5"/>
<text x="709.7" y="114.1" font-size="12.0" font-weight="bold" fill="#000" text-anchor="end">1x10<tspan dy="-7.44" font-size="6.4">4</tspan></text>
<line x1="712.1" y1="163" x2="715.5" y2="163" stroke="#111" stroke-width="1.5"/>
<text x="709.7" y="164" font-size="12.0" font-weight="bold" fill="#000" text-anchor="end">0</text>
<line x1="713.1" y1="84.5" x2="715.5" y2="84.5" stroke="#111" stroke-width="1.5"/>
<line x1="713.1" y1="136.7" x2="715.5" y2="136.7" stroke="#111" stroke-width="1.5"/>
<polyline points="715.5,162.6 717.5,162.5 719.5,162.5 721.5,162.6 723.5,162.2 725.5,162.4 727.5,162.7 729.5,162.6 731.5,162.6 733.5,162.5 735.5,162.6 737.5,162.5 739.5,162.6 741.5,162.7 743.5,162.4 745.5,162.4 747.5,162.4 749.5,162.5 751.5,162.6 753.5,162.5 755.5,162.7 757.5,162.7 759.5,162.6 761.5,162.6 763.5,162.1 765.5,162.5 767.5,162.5 769.5,162.4 771.5,162.3 773.5,162.7 775.5,162.5 777.5,162.7 779.5,162.4 781.5,162.1 783.5,162.5 785.5,162.4 787.5,162.3 789.5,162.6 791.5,162.7 793.5,162.6 795.5,162.2 797.5,162.4 799.5,162.6 801.5,162.5 803.5,162.7 805.5,162.3 807.5,162.5 809.5,162.3 811.5,162.2 813.5,162.7 815.5,162.6 817.5,162.5 819.5,162.4 821.5,162.5 823.5,162.2 825.5,162.6 827.5,162.3 829.5,162.7 831.5,162.4 833.5,162.6 835.5,162.7 837.5,162.7 839.5,162.5 841.5,162.4 843.5,162.5 845.5,162.7 847.5,162.6 849.5,162.7 851.5,162.3 853.5,162.7 855.5,162.6 857.5,162.4 859.5,162.6 861.5,162.5 863.5,162.6 865.5,162.6 867.5,162.4 869.5,162.5 871.5,162.7 873.5,162.1 875.5,162.5 877.5,162.4 879.5,162.3 881.5,162.5 883.5,162.7 885.5,162.7 887.5,162.1 889.5,162.6 891.5,162.5 893.5,162.4 895.5,162.7 897.5,162.6 899.5,162.5 901.5,162.7 903.5,162.3 905.5,162.5 907.5,162.6 909.5,162.5 911.5,162.7 913.5,162.4 915.5,162.5 917.5,162.6 919.5,162.3 921.5,162.7 923.5,162.4 925.5,162.5 927.5,162.1" fill="none" stroke="#2424c0" stroke-width="2.0" stroke-linejoin="round"/>
<line x1="771.68" y1="163.00" x2="771.68" y2="62.00" stroke="#2424c0" stroke-width="2.2"/>
<line x1="773.80" y1="163.00" x2="773.80" y2="140.00" stroke="#2424c0" stroke-width="2.0"/>
<line x1="824.15" y1="163.00" x2="824.15" y2="148.00" stroke="#2424c0" stroke-width="2.0"/>
<line x1="877.15" y1="163.00" x2="877.15" y2="149.00" stroke="#2424c0" stroke-width="2.0"/>
<line x1="720.80" y1="163.00" x2="720.80" y2="157.00" stroke="#2424c0" stroke-width="2.0"/>
<text x="741.7" y="56.2" font-size="15" font-weight="bold" fill="#000" text-anchor="start">299.058</text>
<line x1="715.5" y1="188.3" x2="715.5" y2="280.3" stroke="#111" stroke-width="1.7"/>
<line x1="715.5" y1="279.5" x2="934.5" y2="279.5" stroke="#111" stroke-width="1.7"/>
<line x1="715.5" y1="279.5" x2="715.5" y2="282.7" stroke="#111" stroke-width="1.5"/>
<line x1="742.88" y1="279.5" x2="742.88" y2="281.7" stroke="#111" stroke-width="1.5"/>
<line x1="770.25" y1="279.5" x2="770.25" y2="282.7" stroke="#111" stroke-width="1.5"/>
<line x1="797.62" y1="279.5" x2="797.62" y2="281.7" stroke="#111" stroke-width="1.5"/>
<line x1="825" y1="279.5" x2="825" y2="282.7" stroke="#111" stroke-width="1.5"/>
<line x1="852.38" y1="279.5" x2="852.38" y2="281.7" stroke="#111" stroke-width="1.5"/>
<line x1="879.75" y1="279.5" x2="879.75" y2="282.7" stroke="#111" stroke-width="1.5"/>
<line x1="907.12" y1="279.5" x2="907.12" y2="281.7" stroke="#111" stroke-width="1.5"/>
<line x1="934.5" y1="279.5" x2="934.5" y2="282.7" stroke="#111" stroke-width="1.5"/>
<text x="715.5" y="293" font-size="12.2" font-weight="bold" fill="#000" text-anchor="middle">298</text>
<text x="770.25" y="293" font-size="12.2" font-weight="bold" fill="#000" text-anchor="middle">299</text>
<text x="825" y="293" font-size="12.2" font-weight="bold" fill="#000" text-anchor="middle">300</text>
<text x="879.75" y="293" font-size="12.2" font-weight="bold" fill="#000" text-anchor="middle">301</text>
<text x="934.5" y="293" font-size="12.2" font-weight="bold" fill="#000" text-anchor="middle">302</text>
<line x1="712.1" y1="212.6" x2="715.5" y2="212.6" stroke="#111" stroke-width="1.5"/>
<text x="709.7" y="216.2" font-size="12.0" font-weight="bold" fill="#000" text-anchor="end">2x10<tspan dy="-7.44" font-size="6.4">3</tspan></text>
<line x1="712.1" y1="245.9" x2="715.5" y2="245.9" stroke="#111" stroke-width="1.5"/>
<text x="709.7" y="249.5" font-size="12.0" font-weight="bold" fill="#000" text-anchor="end">1x10<tspan dy="-7.44" font-size="6.4">3</tspan></text>
<line x1="712.1" y1="279.5" x2="715.5" y2="279.5" stroke="#111" stroke-width="1.5"/>
<text x="709.7" y="280.5" font-size="12.0" font-weight="bold" fill="#000" text-anchor="end">0</text>
<line x1="713.1" y1="229.2" x2="715.5" y2="229.2" stroke="#111" stroke-width="1.5"/>
<line x1="713.1" y1="262.6" x2="715.5" y2="262.6" stroke="#111" stroke-width="1.5"/>
<polyline points="715.5,278.5 717.5,277.5 719.5,279.1 721.5,278.5 723.5,279.1 725.5,278.4 727.6,278.1 729.6,278.9 731.6,278.9 733.6,278.5 735.6,277.9 737.6,278.5 739.6,278.7 741.6,279.0 743.6,278.7 745.6,278.8 747.6,278.7 749.7,279.1 751.7,278.9 753.7,279.1 755.7,277.5 757.7,277.9 759.7,278.0 761.7,278.1 763.7,276.9 765.7,279.2 767.7,278.9 769.7,278.6 771.8,277.7 773.8,278.6 775.8,277.8 777.8,278.9 779.8,278.5 781.8,278.5 783.8,278.9 785.8,278.7 787.8,278.4 789.8,279.2 791.8,277.7 793.9,277.2 795.9,277.4 797.9,277.4 799.9,279.0 801.9,278.3 803.9,278.4 805.9,277.5 807.9,278.9 809.9,279.1 811.9,278.2 813.9,279.0 816.0,278.6 818.0,278.9 820.0,277.8 822.0,277.6 824.0,278.2 826.0,279.0 828.0,278.6 830.0,277.6 832.0,278.9 834.0,279.1 836.1,277.1 838.1,278.3 840.1,279.1 842.1,277.5 844.1,278.5 846.1,278.7 848.1,278.8 850.1,276.7 852.1,278.6 854.1,278.7 856.1,279.0 858.2,278.3 860.2,279.2 862.2,279.1 864.2,279.1 866.2,277.0 868.2,277.6 870.2,277.4 872.2,278.5 874.2,279.1 876.2,276.7 878.2,278.8 880.3,278.3 882.3,278.9 884.3,279.2 886.3,278.1 888.3,276.9 890.3,279.1 892.3,278.5 894.3,277.6 896.3,279.1 898.3,277.3 900.3,279.0 902.4,277.8 904.4,278.8 906.4,278.4 908.4,278.1 910.4,277.9 912.4,278.6 914.4,278.9 916.4,279.2 918.4,278.4 920.4,279.0 922.4,279.1 924.5,278.4 926.5,278.9 928.5,277.1 930.5,278.9 932.5,278.4 934.5,279.1" fill="none" stroke="#2424c0" stroke-width="2.0" stroke-linejoin="round"/>
<line x1="773.54" y1="279.50" x2="773.54" y2="212.00" stroke="#2424c0" stroke-width="2.2"/>
<line x1="775.73" y1="279.50" x2="775.73" y2="240.00" stroke="#2424c0" stroke-width="2.0"/>
<line x1="827.74" y1="279.50" x2="827.74" y2="268.00" stroke="#2424c0" stroke-width="2.0"/>
<line x1="882.49" y1="279.50" x2="882.49" y2="270.00" stroke="#2424c0" stroke-width="2.0"/>
<line x1="718.24" y1="279.50" x2="718.24" y2="274.00" stroke="#2424c0" stroke-width="2.0"/>
<text x="749.5" y="206.6" font-size="15" font-weight="bold" fill="#000" text-anchor="start">299.058</text>
<line x1="939.5" y1="390.75" x2="939.5" y2="493.3" stroke="#111" stroke-width="1.7"/>
<line x1="939.5" y1="492.5" x2="1109.25" y2="492.5" stroke="#111" stroke-width="1.7"/>
<line x1="939.5" y1="492.5" x2="939.5" y2="494.7" stroke="#111" stroke-width="1.5"/>
<line x1="956.48" y1="492.5" x2="956.48" y2="495.7" stroke="#111" stroke-width="1.5"/>
<line x1="973.45" y1="492.5" x2="973.45" y2="494.7" stroke="#111" stroke-width="1.5"/>
<line x1="990.42" y1="492.5" x2="990.42" y2="495.7" stroke="#111" stroke-width="1.5"/>
<line x1="1007.4" y1="492.5" x2="1007.4" y2="494.7" stroke="#111" stroke-width="1.5"/>
<line x1="1024.38" y1="492.5" x2="1024.38" y2="495.7" stroke="#111" stroke-width="1.5"/>
<line x1="1041.35" y1="492.5" x2="1041.35" y2="494.7" stroke="#111" stroke-width="1.5"/>
<line x1="1058.33" y1="492.5" x2="1058.33" y2="495.7" stroke="#111" stroke-width="1.5"/>
<line x1="1075.3" y1="492.5" x2="1075.3" y2="494.7" stroke="#111" stroke-width="1.5"/>
<line x1="1092.28" y1="492.5" x2="1092.28" y2="495.7" stroke="#111" stroke-width="1.5"/>
<line x1="1109.25" y1="492.5" x2="1109.25" y2="494.7" stroke="#111" stroke-width="1.5"/>
<text x="956.48" y="507.5" font-size="12.6" font-weight="bold" fill="#000" text-anchor="middle">251</text>
<text x="990.42" y="507.5" font-size="12.6" font-weight="bold" fill="#000" text-anchor="middle">252</text>
<text x="1024.38" y="507.5" font-size="12.6" font-weight="bold" fill="#000" text-anchor="middle">253</text>
<text x="1058.33" y="507.5" font-size="12.6" font-weight="bold" fill="#000" text-anchor="middle">254</text>
<text x="1092.28" y="507.5" font-size="12.6" font-weight="bold" fill="#000" text-anchor="middle">255</text>
<line x1="936.1" y1="391.25" x2="939.5" y2="391.25" stroke="#111" stroke-width="1.5"/>
<text x="935" y="396.15" font-size="13.3" font-weight="bold" fill="#000" text-anchor="end">3.0x10<tspan dy="-8.25" font-size="7.0">5</tspan></text>
<line x1="936.1" y1="441.25" x2="939.5" y2="441.25" stroke="#111" stroke-width="1.5"/>
<text x="935" y="446.15" font-size="13.3" font-weight="bold" fill="#000" text-anchor="end">1.5x10<tspan dy="-8.25" font-size="7.0">5</tspan></text>
<line x1="936.1" y1="492.5" x2="939.5" y2="492.5" stroke="#111" stroke-width="1.5"/>
<text x="935" y="493.5" font-size="13.3" font-weight="bold" fill="#000" text-anchor="end">0.0</text>
<line x1="937.1" y1="416" x2="939.5" y2="416" stroke="#111" stroke-width="1.5"/>
<line x1="937.1" y1="467" x2="939.5" y2="467" stroke="#111" stroke-width="1.5"/>
<polyline points="939.5,492.2 941.5,492.2 943.5,492.2 945.6,492.2 947.6,492.2 949.6,492.2 951.6,492.2 953.6,492.2 955.7,492.2 957.7,492.2 959.7,492.2 961.7,492.2 963.8,492.2 965.8,492.2 967.8,492.2 969.8,492.2 971.8,492.2 973.9,492.2 975.9,492.2 977.9,492.2 979.9,492.2 981.9,492.2 984.0,492.2 986.0,492.2 988.0,492.2 990.0,492.2 992.0,492.2 994.1,492.2 996.1,492.2 998.1,492.2 1000.1,492.2 1002.1,492.2 1004.2,492.2 1006.2,492.2 1008.2,492.2 1010.2,492.2 1012.2,492.2 1014.3,492.2 1016.3,492.2 1018.3,492.2 1020.3,492.2 1022.4,492.2 1024.4,492.2 1026.4,492.2 1028.4,492.2 1030.4,492.2 1032.5,492.2 1034.5,492.2 1036.5,492.2 1038.5,492.2 1040.5,492.2 1042.6,492.2 1044.6,492.2 1046.6,492.2 1048.6,492.2 1050.6,492.2 1052.7,492.2 1054.7,492.2 1056.7,492.2 1058.7,492.2 1060.8,492.2 1062.8,492.2 1064.8,492.2 1066.8,492.2 1068.8,492.2 1070.9,492.2 1072.9,492.2 1074.9,492.2 1076.9,492.2 1078.9,492.2 1081.0,492.2 1083.0,492.2 1085.0,492.2 1087.0,492.2 1089.0,492.2 1091.1,492.2 1093.1,492.2 1095.1,492.2 1097.1,492.2 1099.1,492.2 1101.2,492.2 1103.2,492.2 1105.2,492.2 1107.2,492.2 1109.2,492.2" fill="none" stroke="#2424c0" stroke-width="2.0" stroke-linejoin="round"/>
<line x1="956.48" y1="492.50" x2="956.48" y2="402.50" stroke="#2424c0" stroke-width="2.2"/>
<line x1="1024.38" y1="492.50" x2="1024.38" y2="436.75" stroke="#2424c0" stroke-width="2.2"/>
<line x1="1092.28" y1="492.50" x2="1092.28" y2="484.25" stroke="#2424c0" stroke-width="2.0"/>
<line x1="990.42" y1="492.50" x2="990.42" y2="489.00" stroke="#2424c0" stroke-width="2.0"/>
<text x="942" y="396.25" font-size="15" font-weight="bold" fill="#000" text-anchor="start">250.998</text>
<text x="1001.5" y="429.5" font-size="15" font-weight="bold" fill="#000" text-anchor="start">252.995</text>
<text x="1061.5" y="478.25" font-size="15" font-weight="bold" fill="#000" text-anchor="start">254.992</text>
<line x1="944.8" y1="548.25" x2="944.8" y2="647.8" stroke="#111" stroke-width="1.7"/>
<line x1="944.8" y1="647" x2="1116.8" y2="647" stroke="#111" stroke-width="1.7"/>
<line x1="944.8" y1="647" x2="944.8" y2="649.2" stroke="#111" stroke-width="1.5"/>
<line x1="962" y1="647" x2="962" y2="650.2" stroke="#111" stroke-width="1.5"/>
<line x1="979.2" y1="647" x2="979.2" y2="649.2" stroke="#111" stroke-width="1.5"/>
<line x1="996.4" y1="647" x2="996.4" y2="650.2" stroke="#111" stroke-width="1.5"/>
<line x1="1013.6" y1="647" x2="1013.6" y2="649.2" stroke="#111" stroke-width="1.5"/>
<line x1="1030.8" y1="647" x2="1030.8" y2="650.2" stroke="#111" stroke-width="1.5"/>
<line x1="1048" y1="647" x2="1048" y2="649.2" stroke="#111" stroke-width="1.5"/>
<line x1="1065.2" y1="647" x2="1065.2" y2="650.2" stroke="#111" stroke-width="1.5"/>
<line x1="1082.4" y1="647" x2="1082.4" y2="649.2" stroke="#111" stroke-width="1.5"/>
<line x1="1099.6" y1="647" x2="1099.6" y2="650.2" stroke="#111" stroke-width="1.5"/>
<line x1="1116.8" y1="647" x2="1116.8" y2="649.2" stroke="#111" stroke-width="1.5"/>
<text x="962" y="661.25" font-size="12.6" font-weight="bold" fill="#000" text-anchor="middle">251</text>
<text x="996.4" y="661.25" font-size="12.6" font-weight="bold" fill="#000" text-anchor="middle">252</text>
<text x="1030.8" y="661.25" font-size="12.6" font-weight="bold" fill="#000" text-anchor="middle">253</text>
<text x="1065.2" y="661.25" font-size="12.6" font-weight="bold" fill="#000" text-anchor="middle">254</text>
<text x="1099.6" y="661.25" font-size="12.6" font-weight="bold" fill="#000" text-anchor="middle">255</text>
<line x1="941.4" y1="548.25" x2="944.8" y2="548.25" stroke="#111" stroke-width="1.5"/>
<text x="940" y="553.45" font-size="12.6" font-weight="bold" fill="#000" text-anchor="end">1.0x10<tspan dy="-7.81" font-size="6.7">5</tspan></text>
<line x1="941.4" y1="597" x2="944.8" y2="597" stroke="#111" stroke-width="1.5"/>
<text x="940" y="602.2" font-size="12.6" font-weight="bold" fill="#000" text-anchor="end">5.0x10<tspan dy="-7.81" font-size="6.7">4</tspan></text>
<line x1="941.4" y1="647" x2="944.8" y2="647" stroke="#111" stroke-width="1.5"/>
<text x="940" y="648" font-size="12.6" font-weight="bold" fill="#000" text-anchor="end">0.0</text>
<line x1="942.4" y1="572.5" x2="944.8" y2="572.5" stroke="#111" stroke-width="1.5"/>
<line x1="942.4" y1="622" x2="944.8" y2="622" stroke="#111" stroke-width="1.5"/>
<polyline points="944.8,646.7 946.8,646.7 948.8,646.7 950.8,646.7 952.8,646.7 954.8,646.7 956.8,646.7 958.8,646.7 960.8,646.7 962.8,646.7 964.8,646.7 966.8,646.7 968.8,646.7 970.8,646.7 972.8,646.7 974.8,646.7 976.8,646.7 978.8,646.7 980.8,646.7 982.8,646.7 984.8,646.7 986.8,646.7 988.8,646.7 990.8,646.7 992.8,646.7 994.8,646.7 996.8,646.7 998.8,646.7 1000.8,646.7 1002.8,646.7 1004.8,646.7 1006.8,646.7 1008.8,646.7 1010.8,646.7 1012.8,646.7 1014.8,646.7 1016.8,646.7 1018.8,646.7 1020.8,646.7 1022.8,646.7 1024.8,646.7 1026.8,646.7 1028.8,646.7 1030.8,646.7 1032.8,646.7 1034.8,646.7 1036.8,646.7 1038.8,646.7 1040.8,646.7 1042.8,646.7 1044.8,646.7 1046.8,646.7 1048.8,646.7 1050.8,646.7 1052.8,646.7 1054.8,646.7 1056.8,646.7 1058.8,646.7 1060.8,646.7 1062.8,646.7 1064.8,646.7 1066.8,646.7 1068.8,646.7 1070.8,646.7 1072.8,646.7 1074.8,646.7 1076.8,646.7 1078.8,646.7 1080.8,646.7 1082.8,646.7 1084.8,646.7 1086.8,646.7 1088.8,646.7 1090.8,646.7 1092.8,646.7 1094.8,646.7 1096.8,646.7 1098.8,646.7 1100.8,646.7 1102.8,646.7 1104.8,646.7 1106.8,646.7 1108.8,646.7 1110.8,646.7 1112.8,646.7 1114.8,646.7 1116.8,646.7" fill="none" stroke="#2424c0" stroke-width="2.0" stroke-linejoin="round"/>
<line x1="962.00" y1="647.00" x2="962.00" y2="557.50" stroke="#2424c0" stroke-width="2.2"/>
<line x1="1030.80" y1="647.00" x2="1030.80" y2="592.00" stroke="#2424c0" stroke-width="2.2"/>
<line x1="1099.60" y1="647.00" x2="1099.60" y2="637.50" stroke="#2424c0" stroke-width="2.0"/>
<line x1="996.40" y1="647.00" x2="996.40" y2="643.75" stroke="#2424c0" stroke-width="2.0"/>
<line x1="1068.64" y1="647.00" x2="1068.64" y2="644.00" stroke="#2424c0" stroke-width="2.0"/>
<text x="950.5" y="550.5" font-size="15" font-weight="bold" fill="#000" text-anchor="start">250.998</text>
<text x="1007" y="580.75" font-size="15" font-weight="bold" fill="#000" text-anchor="start">252.995</text>
<text x="1062.5" y="629.25" font-size="15" font-weight="bold" fill="#000" text-anchor="start">254.992</text>
<line x1="923.25" y1="735" x2="923.25" y2="838.8" stroke="#111" stroke-width="1.7"/>
<line x1="923.25" y1="838" x2="1101.25" y2="838" stroke="#111" stroke-width="1.7"/>
<line x1="923.25" y1="838" x2="923.25" y2="841.2" stroke="#111" stroke-width="1.5"/>
<line x1="945.5" y1="838" x2="945.5" y2="840.2" stroke="#111" stroke-width="1.5"/>
<line x1="967.75" y1="838" x2="967.75" y2="841.2" stroke="#111" stroke-width="1.5"/>
<line x1="990" y1="838" x2="990" y2="840.2" stroke="#111" stroke-width="1.5"/>
<line x1="1012.25" y1="838" x2="1012.25" y2="841.2" stroke="#111" stroke-width="1.5"/>
<line x1="1034.5" y1="838" x2="1034.5" y2="840.2" stroke="#111" stroke-width="1.5"/>
<line x1="1056.75" y1="838" x2="1056.75" y2="841.2" stroke="#111" stroke-width="1.5"/>
<line x1="1079" y1="838" x2="1079" y2="840.2" stroke="#111" stroke-width="1.5"/>
<line x1="1101.25" y1="838" x2="1101.25" y2="841.2" stroke="#111" stroke-width="1.5"/>
<text x="923.25" y="852.5" font-size="12.6" font-weight="bold" fill="#000" text-anchor="middle">174</text>
<text x="967.75" y="852.5" font-size="12.6" font-weight="bold" fill="#000" text-anchor="middle">175</text>
<text x="1012.25" y="852.5" font-size="12.6" font-weight="bold" fill="#000" text-anchor="middle">176</text>
<text x="1056.75" y="852.5" font-size="12.6" font-weight="bold" fill="#000" text-anchor="middle">177</text>
<text x="1101.25" y="852.5" font-size="12.6" font-weight="bold" fill="#000" text-anchor="middle">178</text>
<line x1="919.85" y1="746.25" x2="923.25" y2="746.25" stroke="#111" stroke-width="1.5"/>
<text x="917.05" y="749.85" font-size="12.3" font-weight="bold" fill="#000" text-anchor="end">2x10<tspan dy="-7.63" font-size="6.5">5</tspan></text>
<line x1="919.85" y1="792" x2="923.25" y2="792" stroke="#111" stroke-width="1.5"/>
<text x="917.05" y="795.6" font-size="12.3" font-weight="bold" fill="#000" text-anchor="end">1x10<tspan dy="-7.63" font-size="6.5">5</tspan></text>
<line x1="919.85" y1="838" x2="923.25" y2="838" stroke="#111" stroke-width="1.5"/>
<text x="917.05" y="839" font-size="12.3" font-weight="bold" fill="#000" text-anchor="end">0</text>
<line x1="920.85" y1="769.5" x2="923.25" y2="769.5" stroke="#111" stroke-width="1.5"/>
<line x1="920.85" y1="815" x2="923.25" y2="815" stroke="#111" stroke-width="1.5"/>
<polyline points="923.2,837.7 925.2,837.7 927.2,837.7 929.2,837.7 931.2,837.7 933.2,837.7 935.2,837.7 937.2,837.7 939.2,837.7 941.2,837.7 943.2,837.7 945.2,837.7 947.2,837.7 949.2,837.7 951.2,837.7 953.2,837.7 955.2,837.7 957.2,837.7 959.2,837.7 961.2,837.7 963.2,837.7 965.2,837.7 967.2,837.7 969.2,837.7 971.2,837.7 973.2,837.7 975.2,837.7 977.2,837.7 979.2,837.7 981.2,837.7 983.2,837.7 985.2,837.7 987.2,837.7 989.2,837.7 991.2,837.7 993.2,837.7 995.2,837.7 997.2,837.7 999.2,837.7 1001.2,837.7 1003.2,837.7 1005.2,837.7 1007.2,837.7 1009.2,837.7 1011.2,837.7 1013.2,837.7 1015.2,837.7 1017.2,837.7 1019.2,837.7 1021.2,837.7 1023.2,837.7 1025.2,837.7 1027.2,837.7 1029.2,837.7 1031.2,837.7 1033.2,837.7 1035.2,837.7 1037.2,837.7 1039.2,837.7 1041.2,837.7 1043.2,837.7 1045.2,837.7 1047.2,837.7 1049.2,837.7 1051.2,837.7 1053.2,837.7 1055.2,837.7 1057.2,837.7 1059.2,837.7 1061.2,837.7 1063.2,837.7 1065.2,837.7 1067.2,837.7 1069.2,837.7 1071.2,837.7 1073.2,837.7 1075.2,837.7 1077.2,837.7 1079.2,837.7 1081.2,837.7 1083.2,837.7 1085.2,837.7 1087.2,837.7 1089.2,837.7 1091.2,837.7 1093.2,837.7 1095.2,837.7 1097.2,837.7 1099.2,837.7 1101.2,837.7" fill="none" stroke="#2424c0" stroke-width="2.0" stroke-linejoin="round"/>
<line x1="967.75" y1="838.00" x2="967.75" y2="743.00" stroke="#2424c0" stroke-width="2.2"/>
<line x1="1056.75" y1="838.00" x2="1056.75" y2="809.25" stroke="#2424c0" stroke-width="2.2"/>
<line x1="1012.25" y1="838.00" x2="1012.25" y2="835.00" stroke="#2424c0" stroke-width="2.0"/>
<text x="945.25" y="736.25" font-size="15" font-weight="bold" fill="#000" text-anchor="start">174.993</text>
<text x="1032" y="800.5" font-size="15" font-weight="bold" fill="#000" text-anchor="start">176.988</text>
<line x1="925" y1="880.25" x2="925" y2="987.3" stroke="#111" stroke-width="1.7"/>
<line x1="925" y1="986.5" x2="1102" y2="986.5" stroke="#111" stroke-width="1.7"/>
<line x1="925" y1="986.5" x2="925" y2="989.7" stroke="#111" stroke-width="1.5"/>
<line x1="947.12" y1="986.5" x2="947.12" y2="988.7" stroke="#111" stroke-width="1.5"/>
<line x1="969.25" y1="986.5" x2="969.25" y2="989.7" stroke="#111" stroke-width="1.5"/>
<line x1="991.38" y1="986.5" x2="991.38" y2="988.7" stroke="#111" stroke-width="1.5"/>
<line x1="1013.5" y1="986.5" x2="1013.5" y2="989.7" stroke="#111" stroke-width="1.5"/>
<line x1="1035.62" y1="986.5" x2="1035.62" y2="988.7" stroke="#111" stroke-width="1.5"/>
<line x1="1057.75" y1="986.5" x2="1057.75" y2="989.7" stroke="#111" stroke-width="1.5"/>
<line x1="1079.88" y1="986.5" x2="1079.88" y2="988.7" stroke="#111" stroke-width="1.5"/>
<line x1="1102" y1="986.5" x2="1102" y2="989.7" stroke="#111" stroke-width="1.5"/>
<text x="925" y="1000.25" font-size="12.6" font-weight="bold" fill="#000" text-anchor="middle">174</text>
<text x="969.25" y="1000.25" font-size="12.6" font-weight="bold" fill="#000" text-anchor="middle">175</text>
<text x="1013.5" y="1000.25" font-size="12.6" font-weight="bold" fill="#000" text-anchor="middle">176</text>
<text x="1057.75" y="1000.25" font-size="12.6" font-weight="bold" fill="#000" text-anchor="middle">177</text>
<text x="1102" y="1000.25" font-size="12.6" font-weight="bold" fill="#000" text-anchor="middle">178</text>
<line x1="921.6" y1="892.75" x2="925" y2="892.75" stroke="#111" stroke-width="1.5"/>
<text x="919" y="896.55" font-size="12.3" font-weight="bold" fill="#000" text-anchor="end">8x10<tspan dy="-7.63" font-size="6.5">4</tspan></text>
<line x1="921.6" y1="939.75" x2="925" y2="939.75" stroke="#111" stroke-width="1.5"/>
<text x="919" y="943.55" font-size="12.3" font-weight="bold" fill="#000" text-anchor="end">4x10<tspan dy="-7.63" font-size="6.5">4</tspan></text>
<line x1="921.6" y1="986.5" x2="925" y2="986.5" stroke="#111" stroke-width="1.5"/>
<text x="919" y="987.5" font-size="12.3" font-weight="bold" fill="#000" text-anchor="end">0</text>
<line x1="922.6" y1="916" x2="925" y2="916" stroke="#111" stroke-width="1.5"/>
<line x1="922.6" y1="963" x2="925" y2="963" stroke="#111" stroke-width="1.5"/>
<polyline points="925.0,986.2 927.0,986.2 929.0,986.2 931.0,986.2 933.0,986.2 935.1,986.2 937.1,986.2 939.1,986.2 941.1,986.2 943.1,986.2 945.1,986.2 947.1,986.2 949.1,986.2 951.1,986.2 953.2,986.2 955.2,986.2 957.2,986.2 959.2,986.2 961.2,986.2 963.2,986.2 965.2,986.2 967.2,986.2 969.2,986.2 971.3,986.2 973.3,986.2 975.3,986.2 977.3,986.2 979.3,986.2 981.3,986.2 983.3,986.2 985.3,986.2 987.4,986.2 989.4,986.2 991.4,986.2 993.4,986.2 995.4,986.2 997.4,986.2 999.4,986.2 1001.4,986.2 1003.4,986.2 1005.5,986.2 1007.5,986.2 1009.5,986.2 1011.5,986.2 1013.5,986.2 1015.5,986.2 1017.5,986.2 1019.5,986.2 1021.5,986.2 1023.6,986.2 1025.6,986.2 1027.6,986.2 1029.6,986.2 1031.6,986.2 1033.6,986.2 1035.6,986.2 1037.6,986.2 1039.6,986.2 1041.7,986.2 1043.7,986.2 1045.7,986.2 1047.7,986.2 1049.7,986.2 1051.7,986.2 1053.7,986.2 1055.7,986.2 1057.8,986.2 1059.8,986.2 1061.8,986.2 1063.8,986.2 1065.8,986.2 1067.8,986.2 1069.8,986.2 1071.8,986.2 1073.8,986.2 1075.9,986.2 1077.9,986.2 1079.9,986.2 1081.9,986.2 1083.9,986.2 1085.9,986.2 1087.9,986.2 1089.9,986.2 1091.9,986.2 1094.0,986.2 1096.0,986.2 1098.0,986.2 1100.0,986.2 1102.0,986.2" fill="none" stroke="#2424c0" stroke-width="2.0" stroke-linejoin="round"/>
<line x1="969.25" y1="986.50" x2="969.25" y2="899.00" stroke="#2424c0" stroke-width="2.2"/>
<line x1="1057.75" y1="986.50" x2="1057.75" y2="960.25" stroke="#2424c0" stroke-width="2.2"/>
<line x1="1013.50" y1="986.50" x2="1013.50" y2="983.00" stroke="#2424c0" stroke-width="2.0"/>
<text x="947" y="893.25" font-size="15" font-weight="bold" fill="#000" text-anchor="start">174.993</text>
<text x="1028.75" y="951.5" font-size="15" font-weight="bold" fill="#000" text-anchor="start">176.988</text>
<text x="100" y="47" font-size="18" font-weight="bold" fill="#d026d6" text-anchor="start">OFR sample</text>
<text x="250" y="56.2" font-size="15.5" font-weight="bold" fill="#000" text-anchor="start">1.975 min</text>
<text x="471" y="50.8" font-size="17.5" font-weight="bold" fill="#cc1620" text-anchor="start">TCEP-1</text>
<text x="100" y="218.5" font-size="18" font-weight="bold" fill="#d026d6" text-anchor="start">GAPS-MC sample</text>
<text x="100" y="241" font-size="18" font-weight="bold" fill="#d026d6" text-anchor="start">Toronto, Canada</text>
<text x="247.5" y="202.3" font-size="15.5" font-weight="bold" fill="#000" text-anchor="start">1.970 min</text>
<text x="107.5" y="404" font-size="18" font-weight="bold" fill="#d026d6" text-anchor="start">OFR sample</text>
<text x="249" y="412.4" font-size="15.5" font-weight="bold" fill="#000" text-anchor="start">2.171 min</text>
<text x="475" y="401.7" font-size="17.5" font-weight="bold" fill="#cc1620" text-anchor="start">TCEP-10</text>
<text x="103" y="552.7" font-size="18" font-weight="bold" fill="#d026d6" text-anchor="start">GAPS-MC sample</text>
<text x="103" y="575" font-size="18" font-weight="bold" fill="#d026d6" text-anchor="start">Toronto, Canada</text>
<text x="261" y="571" font-size="15.5" font-weight="bold" fill="#000" text-anchor="start">2.175 min</text>
<text x="105" y="730" font-size="18" font-weight="bold" fill="#d026d6" text-anchor="start">OFR sample</text>
<text x="258.5" y="733.5" font-size="15.5" font-weight="bold" fill="#000" text-anchor="start">2.168 min</text>
<text x="463.5" y="736.7" font-size="17.5" font-weight="bold" fill="#cc1620" text-anchor="start">TCEP-21</text>
<text x="101.5" y="916.6" font-size="18" font-weight="bold" fill="#d026d6" text-anchor="start">GAPS-MC sample</text>
<text x="101.5" y="939.3" font-size="18" font-weight="bold" fill="#d026d6" text-anchor="start">Kolkata, India</text>
<text x="243" y="893.5" font-size="15.5" font-weight="bold" fill="#000" text-anchor="start">2.154 min</text>
<text x="1050" y="38.9" font-size="17" font-weight="bold" fill="#cc1620" text-anchor="start">TCPP-9</text>
<text x="1020.5" y="61.8" font-size="18" font-weight="bold" fill="#d026d6" text-anchor="start">OFR sample</text>
<text x="940.5" y="58.75" font-size="15.5" font-weight="bold" fill="#000" text-anchor="start">1.975 min</text>
<text x="997" y="212" font-size="18" font-weight="bold" fill="#d026d6" text-anchor="start">GAPS-MC sample</text>
<text x="998.5" y="234.6" font-size="18" font-weight="bold" fill="#d026d6" text-anchor="start">Toronto, Canada</text>
<text x="921" y="229.2" font-size="15.5" font-weight="bold" fill="#000" text-anchor="start">1.982 min</text>
<text x="676" y="397" font-size="18" font-weight="bold" fill="#d026d6" text-anchor="start">OFR sample</text>
<text x="804" y="420.6" font-size="15.5" font-weight="bold" fill="#000" text-anchor="start">2.250 min</text>
<text x="1042.5" y="396.25" font-size="17.5" font-weight="bold" fill="#cc1620" text-anchor="start">TCPP-21</text>
<text x="670" y="548.8" font-size="18" font-weight="bold" fill="#d026d6" text-anchor="start">GAPS-MC sample</text>
<text x="670" y="571" font-size="18" font-weight="bold" fill="#d026d6" text-anchor="start">London, UK</text>
<text x="809.5" y="564.5" font-size="15.5" font-weight="bold" fill="#000" text-anchor="start">2.249 min</text>
<text x="674.5" y="731.4" font-size="18" font-weight="bold" fill="#d026d6" text-anchor="start">OFR sample</text>
<text x="791.5" y="748.4" font-size="15.5" font-weight="bold" fill="#000" text-anchor="start">2.250 min</text>
<text x="1043.5" y="744.5" font-size="17.5" font-weight="bold" fill="#cc1620" text-anchor="start">TCPP-38</text>
<text x="673" y="909.5" font-size="18" font-weight="bold" fill="#d026d6" text-anchor="start">GAPS-MC sample</text>
<text x="673" y="931.8" font-size="18" font-weight="bold" fill="#d026d6" text-anchor="start">New York, USA</text>
<text x="812.5" y="883.1" font-size="15.5" font-weight="bold" fill="#000" text-anchor="start">2.250 min</text>
</svg></body></html>
